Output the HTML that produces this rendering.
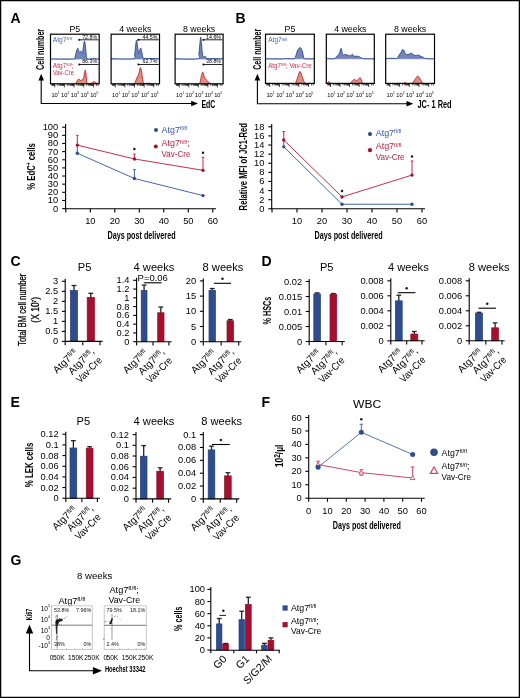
<!DOCTYPE html>
<html><head><meta charset="utf-8"><style>
html,body{margin:0;padding:0;background:#fff;}
svg{display:block;will-change:transform;}
text{font-family:"Liberation Sans", sans-serif;}
</style></head><body>
<svg width="520" height="698" viewBox="0 0 520 698" font-family='"Liberation Sans", sans-serif'>
<rect x="0.6" y="0.6" width="518.8" height="696.8" fill="#fff" stroke="#000" stroke-width="1.3"/>
<text transform="translate(10.40,23.20)" font-size="14.0" text-anchor="start" fill="#000" font-weight="bold">A</text>
<text transform="translate(235.40,23.20)" font-size="14.0" text-anchor="start" fill="#000" font-weight="bold">B</text>
<text transform="translate(10.40,265.60)" font-size="14.0" text-anchor="start" fill="#000" font-weight="bold">C</text>
<text transform="translate(261.60,265.60)" font-size="14.0" text-anchor="start" fill="#000" font-weight="bold">D</text>
<text transform="translate(10.60,407.30)" font-size="14.0" text-anchor="start" fill="#000" font-weight="bold">E</text>
<text transform="translate(261.60,407.00)" font-size="14.0" text-anchor="start" fill="#000" font-weight="bold">F</text>
<text transform="translate(10.40,565.30)" font-size="14.0" text-anchor="start" fill="#000" font-weight="bold">G</text>
<line x1="50.50" y1="59.00" x2="99.20" y2="59.00" stroke="#8fa3cf" stroke-width="0.9"/>
<path d="M50.50,59.00 C54.35,59.00 69.52,59.30 73.60,59.00 C77.68,58.70 74.55,58.37 75.00,57.20 C75.45,56.03 75.85,53.50 76.30,52.00 C76.75,50.50 77.32,48.45 77.70,48.20 C78.08,47.95 78.33,49.83 78.60,50.50 C78.87,51.17 78.97,52.10 79.30,52.20 C79.63,52.30 80.22,51.07 80.60,51.10 C80.98,51.13 81.28,52.10 81.60,52.40 C81.92,52.70 82.18,53.97 82.50,52.90 C82.82,51.83 83.17,47.97 83.50,46.00 C83.83,44.03 84.17,40.93 84.50,41.10 C84.83,41.27 85.20,44.60 85.50,47.00 C85.80,49.40 86.02,53.53 86.30,55.50 C86.58,57.47 86.58,58.22 87.20,58.80 C87.82,59.38 89.03,59.03 90.00,59.00 C90.97,58.97 92.17,58.70 93.00,58.60 C93.83,58.50 94.33,58.33 95.00,58.40 C95.67,58.47 96.30,58.90 97.00,59.00 C97.70,59.10 98.83,59.00 99.20,59.00 L99.20,59.00 L50.50,59.00 Z" fill="#7383bb" stroke="none"/>
<path d="M50.50,59.00 C54.35,59.00 69.52,59.30 73.60,59.00 C77.68,58.70 74.55,58.37 75.00,57.20 C75.45,56.03 75.85,53.50 76.30,52.00 C76.75,50.50 77.32,48.45 77.70,48.20 C78.08,47.95 78.33,49.83 78.60,50.50 C78.87,51.17 78.97,52.10 79.30,52.20 C79.63,52.30 80.22,51.07 80.60,51.10 C80.98,51.13 81.28,52.10 81.60,52.40 C81.92,52.70 82.18,53.97 82.50,52.90 C82.82,51.83 83.17,47.97 83.50,46.00 C83.83,44.03 84.17,40.93 84.50,41.10 C84.83,41.27 85.20,44.60 85.50,47.00 C85.80,49.40 86.02,53.53 86.30,55.50 C86.58,57.47 86.58,58.22 87.20,58.80 C87.82,59.38 89.03,59.03 90.00,59.00 C90.97,58.97 92.17,58.70 93.00,58.60 C93.83,58.50 94.33,58.33 95.00,58.40 C95.67,58.47 96.30,58.90 97.00,59.00 C97.70,59.10 98.83,59.00 99.20,59.00" fill="none" stroke="#2c4989" stroke-width="0.9" stroke-linejoin="round"/>
<path d="M75.60,83.80 C75.80,83.42 76.30,82.30 76.80,81.50 C77.30,80.70 77.95,79.17 78.60,79.00 C79.25,78.83 80.07,80.40 80.70,80.50 C81.33,80.60 81.92,80.02 82.40,79.60 C82.88,79.18 83.27,78.93 83.60,78.00 C83.93,77.07 84.13,75.32 84.40,74.00 C84.67,72.68 84.93,70.02 85.20,70.10 C85.47,70.18 85.73,72.60 86.00,74.50 C86.27,76.40 86.50,80.02 86.80,81.50 C87.10,82.98 87.10,83.10 87.80,83.40 C88.50,83.70 89.97,83.62 91.00,83.30 C92.03,82.98 93.17,81.58 94.00,81.50 C94.83,81.42 95.13,82.45 96.00,82.80 C96.87,83.15 98.67,83.47 99.20,83.60 L99.20,83.80 L75.60,83.80 Z" fill="#d9927c" stroke="none"/>
<path d="M75.60,83.80 C75.80,83.42 76.30,82.30 76.80,81.50 C77.30,80.70 77.95,79.17 78.60,79.00 C79.25,78.83 80.07,80.40 80.70,80.50 C81.33,80.60 81.92,80.02 82.40,79.60 C82.88,79.18 83.27,78.93 83.60,78.00 C83.93,77.07 84.13,75.32 84.40,74.00 C84.67,72.68 84.93,70.02 85.20,70.10 C85.47,70.18 85.73,72.60 86.00,74.50 C86.27,76.40 86.50,80.02 86.80,81.50 C87.10,82.98 87.10,83.10 87.80,83.40 C88.50,83.70 89.97,83.62 91.00,83.30 C92.03,82.98 93.17,81.58 94.00,81.50 C94.83,81.42 95.13,82.45 96.00,82.80 C96.87,83.15 98.67,83.47 99.20,83.60" fill="none" stroke="#bf1f3d" stroke-width="0.9" stroke-linejoin="round"/>
<rect x="50.50" y="34.20" width="48.70" height="49.60" fill="none" stroke="#000" stroke-width="1.2"/>
<line x1="51.78" y1="83.80" x2="51.78" y2="85.80" stroke="#111" stroke-width="0.75"/>
<line x1="52.55" y1="83.80" x2="52.55" y2="85.80" stroke="#111" stroke-width="0.75"/>
<line x1="53.20" y1="83.80" x2="53.20" y2="85.80" stroke="#111" stroke-width="0.75"/>
<line x1="53.76" y1="83.80" x2="53.76" y2="85.80" stroke="#111" stroke-width="0.75"/>
<line x1="54.26" y1="83.80" x2="54.26" y2="85.80" stroke="#111" stroke-width="0.75"/>
<line x1="54.70" y1="83.80" x2="54.70" y2="87.40" stroke="#111" stroke-width="0.75"/>
<line x1="57.62" y1="83.80" x2="57.62" y2="85.80" stroke="#111" stroke-width="0.75"/>
<line x1="59.32" y1="83.80" x2="59.32" y2="85.80" stroke="#111" stroke-width="0.75"/>
<line x1="60.54" y1="83.80" x2="60.54" y2="85.80" stroke="#111" stroke-width="0.75"/>
<line x1="61.47" y1="83.80" x2="61.47" y2="85.80" stroke="#111" stroke-width="0.75"/>
<line x1="62.24" y1="83.80" x2="62.24" y2="85.80" stroke="#111" stroke-width="0.75"/>
<line x1="62.89" y1="83.80" x2="62.89" y2="85.80" stroke="#111" stroke-width="0.75"/>
<line x1="63.45" y1="83.80" x2="63.45" y2="85.80" stroke="#111" stroke-width="0.75"/>
<line x1="63.95" y1="83.80" x2="63.95" y2="85.80" stroke="#111" stroke-width="0.75"/>
<line x1="64.39" y1="83.80" x2="64.39" y2="87.40" stroke="#111" stroke-width="0.75"/>
<line x1="67.31" y1="83.80" x2="67.31" y2="85.80" stroke="#111" stroke-width="0.75"/>
<line x1="69.02" y1="83.80" x2="69.02" y2="85.80" stroke="#111" stroke-width="0.75"/>
<line x1="70.23" y1="83.80" x2="70.23" y2="85.80" stroke="#111" stroke-width="0.75"/>
<line x1="71.17" y1="83.80" x2="71.17" y2="85.80" stroke="#111" stroke-width="0.75"/>
<line x1="71.93" y1="83.80" x2="71.93" y2="85.80" stroke="#111" stroke-width="0.75"/>
<line x1="72.58" y1="83.80" x2="72.58" y2="85.80" stroke="#111" stroke-width="0.75"/>
<line x1="73.15" y1="83.80" x2="73.15" y2="85.80" stroke="#111" stroke-width="0.75"/>
<line x1="73.64" y1="83.80" x2="73.64" y2="85.80" stroke="#111" stroke-width="0.75"/>
<line x1="74.08" y1="83.80" x2="74.08" y2="87.40" stroke="#111" stroke-width="0.75"/>
<line x1="77.00" y1="83.80" x2="77.00" y2="85.80" stroke="#111" stroke-width="0.75"/>
<line x1="78.71" y1="83.80" x2="78.71" y2="85.80" stroke="#111" stroke-width="0.75"/>
<line x1="79.92" y1="83.80" x2="79.92" y2="85.80" stroke="#111" stroke-width="0.75"/>
<line x1="80.86" y1="83.80" x2="80.86" y2="85.80" stroke="#111" stroke-width="0.75"/>
<line x1="81.63" y1="83.80" x2="81.63" y2="85.80" stroke="#111" stroke-width="0.75"/>
<line x1="82.28" y1="83.80" x2="82.28" y2="85.80" stroke="#111" stroke-width="0.75"/>
<line x1="82.84" y1="83.80" x2="82.84" y2="85.80" stroke="#111" stroke-width="0.75"/>
<line x1="83.33" y1="83.80" x2="83.33" y2="85.80" stroke="#111" stroke-width="0.75"/>
<line x1="83.78" y1="83.80" x2="83.78" y2="87.40" stroke="#111" stroke-width="0.75"/>
<line x1="86.69" y1="83.80" x2="86.69" y2="85.80" stroke="#111" stroke-width="0.75"/>
<line x1="88.40" y1="83.80" x2="88.40" y2="85.80" stroke="#111" stroke-width="0.75"/>
<line x1="89.61" y1="83.80" x2="89.61" y2="85.80" stroke="#111" stroke-width="0.75"/>
<line x1="90.55" y1="83.80" x2="90.55" y2="85.80" stroke="#111" stroke-width="0.75"/>
<line x1="91.32" y1="83.80" x2="91.32" y2="85.80" stroke="#111" stroke-width="0.75"/>
<line x1="91.97" y1="83.80" x2="91.97" y2="85.80" stroke="#111" stroke-width="0.75"/>
<line x1="92.53" y1="83.80" x2="92.53" y2="85.80" stroke="#111" stroke-width="0.75"/>
<line x1="93.03" y1="83.80" x2="93.03" y2="85.80" stroke="#111" stroke-width="0.75"/>
<line x1="93.47" y1="83.80" x2="93.47" y2="87.40" stroke="#111" stroke-width="0.75"/>
<line x1="96.39" y1="83.80" x2="96.39" y2="85.80" stroke="#111" stroke-width="0.75"/>
<line x1="98.09" y1="83.80" x2="98.09" y2="85.80" stroke="#111" stroke-width="0.75"/>
<text transform="translate(55.50,96.60) scale(0.92,1)" font-size="6.2" text-anchor="middle" fill="#000">10<tspan font-size="58%" dy="-0.62em">1</tspan></text>
<text transform="translate(65.19,96.60) scale(0.92,1)" font-size="6.2" text-anchor="middle" fill="#000">10<tspan font-size="58%" dy="-0.62em">2</tspan></text>
<text transform="translate(74.88,96.60) scale(0.92,1)" font-size="6.2" text-anchor="middle" fill="#000">10<tspan font-size="58%" dy="-0.62em">3</tspan></text>
<text transform="translate(84.58,96.60) scale(0.92,1)" font-size="6.2" text-anchor="middle" fill="#000">10<tspan font-size="58%" dy="-0.62em">4</tspan></text>
<text transform="translate(94.27,96.60) scale(0.92,1)" font-size="6.2" text-anchor="middle" fill="#000">10<tspan font-size="58%" dy="-0.62em">5</tspan></text>
<line x1="79.30" y1="39.80" x2="98.60" y2="39.80" stroke="#111" stroke-width="0.9"/>
<rect x="78.40" y="38.90" width="1.8" height="1.8" fill="#111"/>
<text transform="translate(97.20,38.50) scale(0.95,1)" font-size="5.6" text-anchor="end" fill="#000">72.8%</text>
<line x1="79.30" y1="64.50" x2="98.60" y2="64.50" stroke="#111" stroke-width="0.9"/>
<rect x="78.40" y="63.60" width="1.8" height="1.8" fill="#111"/>
<text transform="translate(97.20,63.20) scale(0.95,1)" font-size="5.6" text-anchor="end" fill="#000">86.3%</text>
<text transform="translate(74.85,32.30)" font-size="8.8" text-anchor="middle" fill="#000">P5</text>
<line x1="111.10" y1="59.00" x2="159.50" y2="59.00" stroke="#8fa3cf" stroke-width="0.9"/>
<path d="M111.10,58.80 C114.78,58.80 129.28,59.43 133.20,58.80 C137.12,58.17 134.20,57.13 134.60,55.00 C135.00,52.87 135.27,48.48 135.60,46.00 C135.93,43.52 136.27,39.93 136.60,40.10 C136.93,40.27 137.27,44.77 137.60,47.00 C137.93,49.23 138.27,52.92 138.60,53.50 C138.93,54.08 139.25,51.40 139.60,50.50 C139.95,49.60 140.35,47.93 140.70,48.10 C141.05,48.27 141.37,50.10 141.70,51.50 C142.03,52.90 142.32,55.35 142.70,56.50 C143.08,57.65 142.78,58.07 144.00,58.40 C145.22,58.73 147.42,58.43 150.00,58.50 C152.58,58.57 157.92,58.75 159.50,58.80 L159.50,59.00 L111.10,59.00 Z" fill="#7383bb" stroke="none"/>
<path d="M111.10,58.80 C114.78,58.80 129.28,59.43 133.20,58.80 C137.12,58.17 134.20,57.13 134.60,55.00 C135.00,52.87 135.27,48.48 135.60,46.00 C135.93,43.52 136.27,39.93 136.60,40.10 C136.93,40.27 137.27,44.77 137.60,47.00 C137.93,49.23 138.27,52.92 138.60,53.50 C138.93,54.08 139.25,51.40 139.60,50.50 C139.95,49.60 140.35,47.93 140.70,48.10 C141.05,48.27 141.37,50.10 141.70,51.50 C142.03,52.90 142.32,55.35 142.70,56.50 C143.08,57.65 142.78,58.07 144.00,58.40 C145.22,58.73 147.42,58.43 150.00,58.50 C152.58,58.57 157.92,58.75 159.50,58.80" fill="none" stroke="#2c4989" stroke-width="0.9" stroke-linejoin="round"/>
<path d="M134.40,83.80 C134.63,83.25 135.32,81.63 135.80,80.50 C136.28,79.37 136.80,78.08 137.30,77.00 C137.80,75.92 138.30,75.53 138.80,74.00 C139.30,72.47 139.85,68.30 140.30,67.80 C140.75,67.30 141.17,69.47 141.50,71.00 C141.83,72.53 142.02,75.20 142.30,77.00 C142.58,78.80 142.87,80.73 143.20,81.80 C143.53,82.87 143.50,83.17 144.30,83.40 C145.10,83.63 146.72,83.17 148.00,83.20 C149.28,83.23 151.33,83.53 152.00,83.60 L152.00,83.80 L134.40,83.80 Z" fill="#d9927c" stroke="none"/>
<path d="M134.40,83.80 C134.63,83.25 135.32,81.63 135.80,80.50 C136.28,79.37 136.80,78.08 137.30,77.00 C137.80,75.92 138.30,75.53 138.80,74.00 C139.30,72.47 139.85,68.30 140.30,67.80 C140.75,67.30 141.17,69.47 141.50,71.00 C141.83,72.53 142.02,75.20 142.30,77.00 C142.58,78.80 142.87,80.73 143.20,81.80 C143.53,82.87 143.50,83.17 144.30,83.40 C145.10,83.63 146.72,83.17 148.00,83.20 C149.28,83.23 151.33,83.53 152.00,83.60" fill="none" stroke="#bf1f3d" stroke-width="0.9" stroke-linejoin="round"/>
<rect x="111.10" y="34.20" width="48.40" height="49.60" fill="none" stroke="#000" stroke-width="1.2"/>
<line x1="112.40" y1="83.80" x2="112.40" y2="85.80" stroke="#111" stroke-width="0.75"/>
<line x1="113.16" y1="83.80" x2="113.16" y2="85.80" stroke="#111" stroke-width="0.75"/>
<line x1="113.81" y1="83.80" x2="113.81" y2="85.80" stroke="#111" stroke-width="0.75"/>
<line x1="114.37" y1="83.80" x2="114.37" y2="85.80" stroke="#111" stroke-width="0.75"/>
<line x1="114.86" y1="83.80" x2="114.86" y2="85.80" stroke="#111" stroke-width="0.75"/>
<line x1="115.30" y1="83.80" x2="115.30" y2="87.40" stroke="#111" stroke-width="0.75"/>
<line x1="118.20" y1="83.80" x2="118.20" y2="85.80" stroke="#111" stroke-width="0.75"/>
<line x1="119.89" y1="83.80" x2="119.89" y2="85.80" stroke="#111" stroke-width="0.75"/>
<line x1="121.10" y1="83.80" x2="121.10" y2="85.80" stroke="#111" stroke-width="0.75"/>
<line x1="122.03" y1="83.80" x2="122.03" y2="85.80" stroke="#111" stroke-width="0.75"/>
<line x1="122.79" y1="83.80" x2="122.79" y2="85.80" stroke="#111" stroke-width="0.75"/>
<line x1="123.44" y1="83.80" x2="123.44" y2="85.80" stroke="#111" stroke-width="0.75"/>
<line x1="123.99" y1="83.80" x2="123.99" y2="85.80" stroke="#111" stroke-width="0.75"/>
<line x1="124.49" y1="83.80" x2="124.49" y2="85.80" stroke="#111" stroke-width="0.75"/>
<line x1="124.93" y1="83.80" x2="124.93" y2="87.40" stroke="#111" stroke-width="0.75"/>
<line x1="127.82" y1="83.80" x2="127.82" y2="85.80" stroke="#111" stroke-width="0.75"/>
<line x1="129.52" y1="83.80" x2="129.52" y2="85.80" stroke="#111" stroke-width="0.75"/>
<line x1="130.72" y1="83.80" x2="130.72" y2="85.80" stroke="#111" stroke-width="0.75"/>
<line x1="131.65" y1="83.80" x2="131.65" y2="85.80" stroke="#111" stroke-width="0.75"/>
<line x1="132.42" y1="83.80" x2="132.42" y2="85.80" stroke="#111" stroke-width="0.75"/>
<line x1="133.06" y1="83.80" x2="133.06" y2="85.80" stroke="#111" stroke-width="0.75"/>
<line x1="133.62" y1="83.80" x2="133.62" y2="85.80" stroke="#111" stroke-width="0.75"/>
<line x1="134.11" y1="83.80" x2="134.11" y2="85.80" stroke="#111" stroke-width="0.75"/>
<line x1="134.55" y1="83.80" x2="134.55" y2="87.40" stroke="#111" stroke-width="0.75"/>
<line x1="137.45" y1="83.80" x2="137.45" y2="85.80" stroke="#111" stroke-width="0.75"/>
<line x1="139.15" y1="83.80" x2="139.15" y2="85.80" stroke="#111" stroke-width="0.75"/>
<line x1="140.35" y1="83.80" x2="140.35" y2="85.80" stroke="#111" stroke-width="0.75"/>
<line x1="141.28" y1="83.80" x2="141.28" y2="85.80" stroke="#111" stroke-width="0.75"/>
<line x1="142.04" y1="83.80" x2="142.04" y2="85.80" stroke="#111" stroke-width="0.75"/>
<line x1="142.69" y1="83.80" x2="142.69" y2="85.80" stroke="#111" stroke-width="0.75"/>
<line x1="143.25" y1="83.80" x2="143.25" y2="85.80" stroke="#111" stroke-width="0.75"/>
<line x1="143.74" y1="83.80" x2="143.74" y2="85.80" stroke="#111" stroke-width="0.75"/>
<line x1="144.18" y1="83.80" x2="144.18" y2="87.40" stroke="#111" stroke-width="0.75"/>
<line x1="147.08" y1="83.80" x2="147.08" y2="85.80" stroke="#111" stroke-width="0.75"/>
<line x1="148.77" y1="83.80" x2="148.77" y2="85.80" stroke="#111" stroke-width="0.75"/>
<line x1="149.97" y1="83.80" x2="149.97" y2="85.80" stroke="#111" stroke-width="0.75"/>
<line x1="150.91" y1="83.80" x2="150.91" y2="85.80" stroke="#111" stroke-width="0.75"/>
<line x1="151.67" y1="83.80" x2="151.67" y2="85.80" stroke="#111" stroke-width="0.75"/>
<line x1="152.31" y1="83.80" x2="152.31" y2="85.80" stroke="#111" stroke-width="0.75"/>
<line x1="152.87" y1="83.80" x2="152.87" y2="85.80" stroke="#111" stroke-width="0.75"/>
<line x1="153.37" y1="83.80" x2="153.37" y2="85.80" stroke="#111" stroke-width="0.75"/>
<line x1="153.81" y1="83.80" x2="153.81" y2="87.40" stroke="#111" stroke-width="0.75"/>
<line x1="156.70" y1="83.80" x2="156.70" y2="85.80" stroke="#111" stroke-width="0.75"/>
<line x1="158.40" y1="83.80" x2="158.40" y2="85.80" stroke="#111" stroke-width="0.75"/>
<text transform="translate(116.10,96.60) scale(0.92,1)" font-size="6.2" text-anchor="middle" fill="#000">10<tspan font-size="58%" dy="-0.62em">1</tspan></text>
<text transform="translate(125.73,96.60) scale(0.92,1)" font-size="6.2" text-anchor="middle" fill="#000">10<tspan font-size="58%" dy="-0.62em">2</tspan></text>
<text transform="translate(135.35,96.60) scale(0.92,1)" font-size="6.2" text-anchor="middle" fill="#000">10<tspan font-size="58%" dy="-0.62em">3</tspan></text>
<text transform="translate(144.98,96.60) scale(0.92,1)" font-size="6.2" text-anchor="middle" fill="#000">10<tspan font-size="58%" dy="-0.62em">4</tspan></text>
<text transform="translate(154.61,96.60) scale(0.92,1)" font-size="6.2" text-anchor="middle" fill="#000">10<tspan font-size="58%" dy="-0.62em">5</tspan></text>
<line x1="138.40" y1="39.80" x2="158.90" y2="39.80" stroke="#111" stroke-width="0.9"/>
<rect x="137.50" y="38.90" width="1.8" height="1.8" fill="#111"/>
<text transform="translate(157.50,38.50) scale(0.95,1)" font-size="5.6" text-anchor="end" fill="#000">44.5%</text>
<line x1="138.40" y1="64.50" x2="158.90" y2="64.50" stroke="#111" stroke-width="0.9"/>
<rect x="137.50" y="63.60" width="1.8" height="1.8" fill="#111"/>
<text transform="translate(157.50,63.20) scale(0.95,1)" font-size="5.6" text-anchor="end" fill="#000">62.7%</text>
<text transform="translate(135.30,32.30)" font-size="8.8" text-anchor="middle" fill="#000">4 weeks</text>
<line x1="175.10" y1="59.00" x2="223.10" y2="59.00" stroke="#8fa3cf" stroke-width="0.9"/>
<path d="M175.10,58.80 C178.85,58.80 193.63,59.60 197.60,58.80 C201.57,58.00 198.53,56.30 198.90,54.00 C199.27,51.70 199.50,47.82 199.80,45.00 C200.10,42.18 200.40,37.10 200.70,37.10 C201.00,37.10 201.32,42.18 201.60,45.00 C201.88,47.82 202.10,52.03 202.40,54.00 C202.70,55.97 202.93,56.40 203.40,56.80 C203.87,57.20 204.68,56.15 205.20,56.40 C205.72,56.65 205.70,57.93 206.50,58.30 C207.30,58.67 207.23,58.52 210.00,58.60 C212.77,58.68 220.92,58.77 223.10,58.80 L223.10,59.00 L175.10,59.00 Z" fill="#7383bb" stroke="none"/>
<path d="M175.10,58.80 C178.85,58.80 193.63,59.60 197.60,58.80 C201.57,58.00 198.53,56.30 198.90,54.00 C199.27,51.70 199.50,47.82 199.80,45.00 C200.10,42.18 200.40,37.10 200.70,37.10 C201.00,37.10 201.32,42.18 201.60,45.00 C201.88,47.82 202.10,52.03 202.40,54.00 C202.70,55.97 202.93,56.40 203.40,56.80 C203.87,57.20 204.68,56.15 205.20,56.40 C205.72,56.65 205.70,57.93 206.50,58.30 C207.30,58.67 207.23,58.52 210.00,58.60 C212.77,58.68 220.92,58.77 223.10,58.80" fill="none" stroke="#2c4989" stroke-width="0.9" stroke-linejoin="round"/>
<path d="M199.80,83.80 C200.03,82.67 200.72,78.95 201.20,77.00 C201.68,75.05 202.27,72.35 202.70,72.10 C203.13,71.85 203.38,74.42 203.80,75.50 C204.22,76.58 204.67,77.77 205.20,78.60 C205.73,79.43 206.45,79.88 207.00,80.50 C207.55,81.12 207.87,81.80 208.50,82.30 C209.13,82.80 210.42,83.30 210.80,83.50 L210.80,83.80 L199.80,83.80 Z" fill="#d9927c" stroke="none"/>
<path d="M199.80,83.80 C200.03,82.67 200.72,78.95 201.20,77.00 C201.68,75.05 202.27,72.35 202.70,72.10 C203.13,71.85 203.38,74.42 203.80,75.50 C204.22,76.58 204.67,77.77 205.20,78.60 C205.73,79.43 206.45,79.88 207.00,80.50 C207.55,81.12 207.87,81.80 208.50,82.30 C209.13,82.80 210.42,83.30 210.80,83.50" fill="none" stroke="#bf1f3d" stroke-width="0.9" stroke-linejoin="round"/>
<rect x="175.10" y="34.20" width="48.00" height="49.60" fill="none" stroke="#000" stroke-width="1.2"/>
<line x1="176.43" y1="83.80" x2="176.43" y2="85.80" stroke="#111" stroke-width="0.75"/>
<line x1="177.18" y1="83.80" x2="177.18" y2="85.80" stroke="#111" stroke-width="0.75"/>
<line x1="177.82" y1="83.80" x2="177.82" y2="85.80" stroke="#111" stroke-width="0.75"/>
<line x1="178.38" y1="83.80" x2="178.38" y2="85.80" stroke="#111" stroke-width="0.75"/>
<line x1="178.86" y1="83.80" x2="178.86" y2="85.80" stroke="#111" stroke-width="0.75"/>
<line x1="179.30" y1="83.80" x2="179.30" y2="87.40" stroke="#111" stroke-width="0.75"/>
<line x1="182.17" y1="83.80" x2="182.17" y2="85.80" stroke="#111" stroke-width="0.75"/>
<line x1="183.85" y1="83.80" x2="183.85" y2="85.80" stroke="#111" stroke-width="0.75"/>
<line x1="185.04" y1="83.80" x2="185.04" y2="85.80" stroke="#111" stroke-width="0.75"/>
<line x1="185.97" y1="83.80" x2="185.97" y2="85.80" stroke="#111" stroke-width="0.75"/>
<line x1="186.72" y1="83.80" x2="186.72" y2="85.80" stroke="#111" stroke-width="0.75"/>
<line x1="187.36" y1="83.80" x2="187.36" y2="85.80" stroke="#111" stroke-width="0.75"/>
<line x1="187.91" y1="83.80" x2="187.91" y2="85.80" stroke="#111" stroke-width="0.75"/>
<line x1="188.40" y1="83.80" x2="188.40" y2="85.80" stroke="#111" stroke-width="0.75"/>
<line x1="188.84" y1="83.80" x2="188.84" y2="87.40" stroke="#111" stroke-width="0.75"/>
<line x1="191.71" y1="83.80" x2="191.71" y2="85.80" stroke="#111" stroke-width="0.75"/>
<line x1="193.39" y1="83.80" x2="193.39" y2="85.80" stroke="#111" stroke-width="0.75"/>
<line x1="194.58" y1="83.80" x2="194.58" y2="85.80" stroke="#111" stroke-width="0.75"/>
<line x1="195.51" y1="83.80" x2="195.51" y2="85.80" stroke="#111" stroke-width="0.75"/>
<line x1="196.26" y1="83.80" x2="196.26" y2="85.80" stroke="#111" stroke-width="0.75"/>
<line x1="196.90" y1="83.80" x2="196.90" y2="85.80" stroke="#111" stroke-width="0.75"/>
<line x1="197.45" y1="83.80" x2="197.45" y2="85.80" stroke="#111" stroke-width="0.75"/>
<line x1="197.94" y1="83.80" x2="197.94" y2="85.80" stroke="#111" stroke-width="0.75"/>
<line x1="198.38" y1="83.80" x2="198.38" y2="87.40" stroke="#111" stroke-width="0.75"/>
<line x1="201.25" y1="83.80" x2="201.25" y2="85.80" stroke="#111" stroke-width="0.75"/>
<line x1="202.93" y1="83.80" x2="202.93" y2="85.80" stroke="#111" stroke-width="0.75"/>
<line x1="204.12" y1="83.80" x2="204.12" y2="85.80" stroke="#111" stroke-width="0.75"/>
<line x1="205.04" y1="83.80" x2="205.04" y2="85.80" stroke="#111" stroke-width="0.75"/>
<line x1="205.80" y1="83.80" x2="205.80" y2="85.80" stroke="#111" stroke-width="0.75"/>
<line x1="206.44" y1="83.80" x2="206.44" y2="85.80" stroke="#111" stroke-width="0.75"/>
<line x1="206.99" y1="83.80" x2="206.99" y2="85.80" stroke="#111" stroke-width="0.75"/>
<line x1="207.48" y1="83.80" x2="207.48" y2="85.80" stroke="#111" stroke-width="0.75"/>
<line x1="207.92" y1="83.80" x2="207.92" y2="87.40" stroke="#111" stroke-width="0.75"/>
<line x1="210.79" y1="83.80" x2="210.79" y2="85.80" stroke="#111" stroke-width="0.75"/>
<line x1="212.47" y1="83.80" x2="212.47" y2="85.80" stroke="#111" stroke-width="0.75"/>
<line x1="213.66" y1="83.80" x2="213.66" y2="85.80" stroke="#111" stroke-width="0.75"/>
<line x1="214.58" y1="83.80" x2="214.58" y2="85.80" stroke="#111" stroke-width="0.75"/>
<line x1="215.34" y1="83.80" x2="215.34" y2="85.80" stroke="#111" stroke-width="0.75"/>
<line x1="215.98" y1="83.80" x2="215.98" y2="85.80" stroke="#111" stroke-width="0.75"/>
<line x1="216.53" y1="83.80" x2="216.53" y2="85.80" stroke="#111" stroke-width="0.75"/>
<line x1="217.02" y1="83.80" x2="217.02" y2="85.80" stroke="#111" stroke-width="0.75"/>
<line x1="217.45" y1="83.80" x2="217.45" y2="87.40" stroke="#111" stroke-width="0.75"/>
<line x1="220.33" y1="83.80" x2="220.33" y2="85.80" stroke="#111" stroke-width="0.75"/>
<line x1="222.00" y1="83.80" x2="222.00" y2="85.80" stroke="#111" stroke-width="0.75"/>
<text transform="translate(180.10,96.60) scale(0.92,1)" font-size="6.2" text-anchor="middle" fill="#000">10<tspan font-size="58%" dy="-0.62em">1</tspan></text>
<text transform="translate(189.64,96.60) scale(0.92,1)" font-size="6.2" text-anchor="middle" fill="#000">10<tspan font-size="58%" dy="-0.62em">2</tspan></text>
<text transform="translate(199.18,96.60) scale(0.92,1)" font-size="6.2" text-anchor="middle" fill="#000">10<tspan font-size="58%" dy="-0.62em">3</tspan></text>
<text transform="translate(208.72,96.60) scale(0.92,1)" font-size="6.2" text-anchor="middle" fill="#000">10<tspan font-size="58%" dy="-0.62em">4</tspan></text>
<text transform="translate(218.25,96.60) scale(0.92,1)" font-size="6.2" text-anchor="middle" fill="#000">10<tspan font-size="58%" dy="-0.62em">5</tspan></text>
<line x1="203.40" y1="39.80" x2="222.50" y2="39.80" stroke="#111" stroke-width="0.9"/>
<rect x="202.50" y="38.90" width="1.8" height="1.8" fill="#111"/>
<text transform="translate(221.10,38.50) scale(0.95,1)" font-size="5.6" text-anchor="end" fill="#000">14.6%</text>
<line x1="203.40" y1="64.50" x2="222.50" y2="64.50" stroke="#111" stroke-width="0.9"/>
<rect x="202.50" y="63.60" width="1.8" height="1.8" fill="#111"/>
<text transform="translate(221.10,63.20) scale(0.95,1)" font-size="5.6" text-anchor="end" fill="#000">38.8%</text>
<text transform="translate(199.10,32.30)" font-size="8.8" text-anchor="middle" fill="#000">8 weeks</text>
<text transform="translate(52.80,41.60)" font-size="6.6" text-anchor="start" fill="#4566a8">Atg7<tspan font-size="64%" dy="-0.42em">fl/fl</tspan></text>
<text transform="translate(52.80,67.60)" font-size="6.6" text-anchor="start" fill="#c5304d">Atg7<tspan font-size="64%" dy="-0.42em">fl/fl</tspan><tspan dy="0.269em">;</tspan></text>
<text transform="translate(52.80,74.70) scale(0.9,1)" font-size="6.6" text-anchor="start" fill="#c5304d">Vav-Cre</text>
<path d="M41.2,78 L41.2,103.5 L193,103.5" fill="none" stroke="#000" stroke-width="1.1"/>
<path d="M41.20,73.80 L38.40,80.60 L44.00,80.60 Z" fill="#000"/>
<path d="M198.00,103.50 L191.20,100.70 L191.20,106.30 Z" fill="#000"/>
<text transform="translate(43.70,49.40) rotate(-90) scale(0.6975,1)" font-size="10.2" text-anchor="middle" fill="#000" font-weight="bold">Cell number</text>
<text transform="translate(201.40,107.90) scale(0.6696,1)" font-size="10.4" text-anchor="start" fill="#000" font-weight="bold">EdC</text>
<line x1="265.50" y1="58.80" x2="314.30" y2="58.80" stroke="#8fa3cf" stroke-width="0.9"/>
<path d="M265.50,58.80 C267.92,58.83 276.25,59.03 280.00,59.00 C283.75,58.97 285.63,58.65 288.00,58.60 C290.37,58.55 292.90,59.13 294.20,58.70 C295.50,58.27 295.28,57.28 295.80,56.00 C296.32,54.72 296.77,52.28 297.30,51.00 C297.83,49.72 298.57,48.87 299.00,48.30 C299.43,47.73 299.53,47.57 299.90,47.60 C300.27,47.63 300.77,47.77 301.20,48.50 C301.63,49.23 302.10,50.58 302.50,52.00 C302.90,53.42 303.22,55.87 303.60,57.00 C303.98,58.13 303.02,58.48 304.80,58.80 C306.58,59.12 312.72,58.88 314.30,58.90 L314.30,58.80 L265.50,58.80 Z" fill="#7383bb" stroke="none"/>
<path d="M265.50,58.80 C267.92,58.83 276.25,59.03 280.00,59.00 C283.75,58.97 285.63,58.65 288.00,58.60 C290.37,58.55 292.90,59.13 294.20,58.70 C295.50,58.27 295.28,57.28 295.80,56.00 C296.32,54.72 296.77,52.28 297.30,51.00 C297.83,49.72 298.57,48.87 299.00,48.30 C299.43,47.73 299.53,47.57 299.90,47.60 C300.27,47.63 300.77,47.77 301.20,48.50 C301.63,49.23 302.10,50.58 302.50,52.00 C302.90,53.42 303.22,55.87 303.60,57.00 C303.98,58.13 303.02,58.48 304.80,58.80 C306.58,59.12 312.72,58.88 314.30,58.90" fill="none" stroke="#2c4989" stroke-width="0.9" stroke-linejoin="round"/>
<path d="M295.60,83.40 C295.93,82.42 296.88,79.50 297.60,77.50 C298.32,75.50 299.15,71.57 299.90,71.40 C300.65,71.23 301.42,74.82 302.10,76.50 C302.78,78.18 303.45,80.35 304.00,81.50 C304.55,82.65 305.17,83.08 305.40,83.40 L305.40,83.40 L295.60,83.40 Z" fill="#d9927c" stroke="none"/>
<path d="M295.60,83.40 C295.93,82.42 296.88,79.50 297.60,77.50 C298.32,75.50 299.15,71.57 299.90,71.40 C300.65,71.23 301.42,74.82 302.10,76.50 C302.78,78.18 303.45,80.35 304.00,81.50 C304.55,82.65 305.17,83.08 305.40,83.40" fill="none" stroke="#bf1f3d" stroke-width="0.9" stroke-linejoin="round"/>
<rect x="265.50" y="34.20" width="48.80" height="49.20" fill="none" stroke="#000" stroke-width="1.2"/>
<line x1="266.78" y1="83.40" x2="266.78" y2="85.40" stroke="#111" stroke-width="0.75"/>
<line x1="267.54" y1="83.40" x2="267.54" y2="85.40" stroke="#111" stroke-width="0.75"/>
<line x1="268.20" y1="83.40" x2="268.20" y2="85.40" stroke="#111" stroke-width="0.75"/>
<line x1="268.76" y1="83.40" x2="268.76" y2="85.40" stroke="#111" stroke-width="0.75"/>
<line x1="269.26" y1="83.40" x2="269.26" y2="85.40" stroke="#111" stroke-width="0.75"/>
<line x1="269.70" y1="83.40" x2="269.70" y2="87.00" stroke="#111" stroke-width="0.75"/>
<line x1="272.62" y1="83.40" x2="272.62" y2="85.40" stroke="#111" stroke-width="0.75"/>
<line x1="274.33" y1="83.40" x2="274.33" y2="85.40" stroke="#111" stroke-width="0.75"/>
<line x1="275.55" y1="83.40" x2="275.55" y2="85.40" stroke="#111" stroke-width="0.75"/>
<line x1="276.49" y1="83.40" x2="276.49" y2="85.40" stroke="#111" stroke-width="0.75"/>
<line x1="277.26" y1="83.40" x2="277.26" y2="85.40" stroke="#111" stroke-width="0.75"/>
<line x1="277.91" y1="83.40" x2="277.91" y2="85.40" stroke="#111" stroke-width="0.75"/>
<line x1="278.47" y1="83.40" x2="278.47" y2="85.40" stroke="#111" stroke-width="0.75"/>
<line x1="278.97" y1="83.40" x2="278.97" y2="85.40" stroke="#111" stroke-width="0.75"/>
<line x1="279.41" y1="83.40" x2="279.41" y2="87.00" stroke="#111" stroke-width="0.75"/>
<line x1="282.34" y1="83.40" x2="282.34" y2="85.40" stroke="#111" stroke-width="0.75"/>
<line x1="284.05" y1="83.40" x2="284.05" y2="85.40" stroke="#111" stroke-width="0.75"/>
<line x1="285.26" y1="83.40" x2="285.26" y2="85.40" stroke="#111" stroke-width="0.75"/>
<line x1="286.20" y1="83.40" x2="286.20" y2="85.40" stroke="#111" stroke-width="0.75"/>
<line x1="286.97" y1="83.40" x2="286.97" y2="85.40" stroke="#111" stroke-width="0.75"/>
<line x1="287.62" y1="83.40" x2="287.62" y2="85.40" stroke="#111" stroke-width="0.75"/>
<line x1="288.19" y1="83.40" x2="288.19" y2="85.40" stroke="#111" stroke-width="0.75"/>
<line x1="288.68" y1="83.40" x2="288.68" y2="85.40" stroke="#111" stroke-width="0.75"/>
<line x1="289.13" y1="83.40" x2="289.13" y2="87.00" stroke="#111" stroke-width="0.75"/>
<line x1="292.05" y1="83.40" x2="292.05" y2="85.40" stroke="#111" stroke-width="0.75"/>
<line x1="293.76" y1="83.40" x2="293.76" y2="85.40" stroke="#111" stroke-width="0.75"/>
<line x1="294.98" y1="83.40" x2="294.98" y2="85.40" stroke="#111" stroke-width="0.75"/>
<line x1="295.92" y1="83.40" x2="295.92" y2="85.40" stroke="#111" stroke-width="0.75"/>
<line x1="296.69" y1="83.40" x2="296.69" y2="85.40" stroke="#111" stroke-width="0.75"/>
<line x1="297.34" y1="83.40" x2="297.34" y2="85.40" stroke="#111" stroke-width="0.75"/>
<line x1="297.90" y1="83.40" x2="297.90" y2="85.40" stroke="#111" stroke-width="0.75"/>
<line x1="298.40" y1="83.40" x2="298.40" y2="85.40" stroke="#111" stroke-width="0.75"/>
<line x1="298.84" y1="83.40" x2="298.84" y2="87.00" stroke="#111" stroke-width="0.75"/>
<line x1="301.77" y1="83.40" x2="301.77" y2="85.40" stroke="#111" stroke-width="0.75"/>
<line x1="303.48" y1="83.40" x2="303.48" y2="85.40" stroke="#111" stroke-width="0.75"/>
<line x1="304.69" y1="83.40" x2="304.69" y2="85.40" stroke="#111" stroke-width="0.75"/>
<line x1="305.63" y1="83.40" x2="305.63" y2="85.40" stroke="#111" stroke-width="0.75"/>
<line x1="306.40" y1="83.40" x2="306.40" y2="85.40" stroke="#111" stroke-width="0.75"/>
<line x1="307.05" y1="83.40" x2="307.05" y2="85.40" stroke="#111" stroke-width="0.75"/>
<line x1="307.62" y1="83.40" x2="307.62" y2="85.40" stroke="#111" stroke-width="0.75"/>
<line x1="308.11" y1="83.40" x2="308.11" y2="85.40" stroke="#111" stroke-width="0.75"/>
<line x1="308.56" y1="83.40" x2="308.56" y2="87.00" stroke="#111" stroke-width="0.75"/>
<line x1="311.48" y1="83.40" x2="311.48" y2="85.40" stroke="#111" stroke-width="0.75"/>
<line x1="313.19" y1="83.40" x2="313.19" y2="85.40" stroke="#111" stroke-width="0.75"/>
<text transform="translate(270.50,96.60) scale(0.92,1)" font-size="6.2" text-anchor="middle" fill="#000">10<tspan font-size="58%" dy="-0.62em">1</tspan></text>
<text transform="translate(280.21,96.60) scale(0.92,1)" font-size="6.2" text-anchor="middle" fill="#000">10<tspan font-size="58%" dy="-0.62em">2</tspan></text>
<text transform="translate(289.93,96.60) scale(0.92,1)" font-size="6.2" text-anchor="middle" fill="#000">10<tspan font-size="58%" dy="-0.62em">3</tspan></text>
<text transform="translate(299.64,96.60) scale(0.92,1)" font-size="6.2" text-anchor="middle" fill="#000">10<tspan font-size="58%" dy="-0.62em">4</tspan></text>
<text transform="translate(309.36,96.60) scale(0.92,1)" font-size="6.2" text-anchor="middle" fill="#000">10<tspan font-size="58%" dy="-0.62em">5</tspan></text>
<text transform="translate(289.90,32.30)" font-size="8.8" text-anchor="middle" fill="#000">P5</text>
<line x1="326.30" y1="58.80" x2="374.30" y2="58.80" stroke="#8fa3cf" stroke-width="0.9"/>
<path d="M326.30,58.60 C327.58,58.63 332.42,58.97 334.00,58.80 C335.58,58.63 335.22,58.15 335.80,57.60 C336.38,57.05 336.97,56.07 337.50,55.50 C338.03,54.93 338.55,54.95 339.00,54.20 C339.45,53.45 339.85,51.97 340.20,51.00 C340.55,50.03 340.77,48.15 341.10,48.40 C341.43,48.65 341.85,51.40 342.20,52.50 C342.55,53.60 342.73,54.68 343.20,55.00 C343.67,55.32 344.20,54.37 345.00,54.40 C345.80,54.43 347.08,54.97 348.00,55.20 C348.92,55.43 349.78,55.97 350.50,55.80 C351.22,55.63 351.75,54.17 352.30,54.20 C352.85,54.23 353.18,55.65 353.80,56.00 C354.42,56.35 355.30,56.27 356.00,56.30 C356.70,56.33 357.33,56.05 358.00,56.20 C358.67,56.35 359.27,56.83 360.00,57.20 C360.73,57.57 361.40,58.13 362.40,58.40 C363.40,58.67 364.02,58.73 366.00,58.80 C367.98,58.87 372.92,58.80 374.30,58.80 L374.30,58.80 L326.30,58.80 Z" fill="#7383bb" stroke="none"/>
<path d="M326.30,58.60 C327.58,58.63 332.42,58.97 334.00,58.80 C335.58,58.63 335.22,58.15 335.80,57.60 C336.38,57.05 336.97,56.07 337.50,55.50 C338.03,54.93 338.55,54.95 339.00,54.20 C339.45,53.45 339.85,51.97 340.20,51.00 C340.55,50.03 340.77,48.15 341.10,48.40 C341.43,48.65 341.85,51.40 342.20,52.50 C342.55,53.60 342.73,54.68 343.20,55.00 C343.67,55.32 344.20,54.37 345.00,54.40 C345.80,54.43 347.08,54.97 348.00,55.20 C348.92,55.43 349.78,55.97 350.50,55.80 C351.22,55.63 351.75,54.17 352.30,54.20 C352.85,54.23 353.18,55.65 353.80,56.00 C354.42,56.35 355.30,56.27 356.00,56.30 C356.70,56.33 357.33,56.05 358.00,56.20 C358.67,56.35 359.27,56.83 360.00,57.20 C360.73,57.57 361.40,58.13 362.40,58.40 C363.40,58.67 364.02,58.73 366.00,58.80 C367.98,58.87 372.92,58.80 374.30,58.80" fill="none" stroke="#2c4989" stroke-width="0.9" stroke-linejoin="round"/>
<path d="M350.20,83.40 C350.53,83.03 351.52,81.90 352.20,81.20 C352.88,80.50 353.67,79.30 354.30,79.20 C354.93,79.10 355.45,80.43 356.00,80.60 C356.55,80.77 357.10,80.55 357.60,80.20 C358.10,79.85 358.53,78.90 359.00,78.50 C359.47,78.10 359.98,77.52 360.40,77.80 C360.82,78.08 361.15,79.27 361.50,80.20 C361.85,81.13 362.33,82.87 362.50,83.40 L362.50,83.40 L350.20,83.40 Z" fill="#d9927c" stroke="none"/>
<path d="M350.20,83.40 C350.53,83.03 351.52,81.90 352.20,81.20 C352.88,80.50 353.67,79.30 354.30,79.20 C354.93,79.10 355.45,80.43 356.00,80.60 C356.55,80.77 357.10,80.55 357.60,80.20 C358.10,79.85 358.53,78.90 359.00,78.50 C359.47,78.10 359.98,77.52 360.40,77.80 C360.82,78.08 361.15,79.27 361.50,80.20 C361.85,81.13 362.33,82.87 362.50,83.40" fill="none" stroke="#bf1f3d" stroke-width="0.9" stroke-linejoin="round"/>
<path d="M327.20,83.40 C327.38,83.13 327.90,81.98 328.30,81.80 C328.70,81.62 329.18,82.03 329.60,82.30 C330.02,82.57 330.60,83.22 330.80,83.40 L330.80,83.40 L327.20,83.40 Z" fill="#d9927c" stroke="none"/>
<path d="M327.20,83.40 C327.38,83.13 327.90,81.98 328.30,81.80 C328.70,81.62 329.18,82.03 329.60,82.30 C330.02,82.57 330.60,83.22 330.80,83.40" fill="none" stroke="#bf1f3d" stroke-width="0.9" stroke-linejoin="round"/>
<rect x="326.30" y="34.20" width="48.00" height="49.20" fill="none" stroke="#000" stroke-width="1.2"/>
<line x1="327.63" y1="83.40" x2="327.63" y2="85.40" stroke="#111" stroke-width="0.75"/>
<line x1="328.38" y1="83.40" x2="328.38" y2="85.40" stroke="#111" stroke-width="0.75"/>
<line x1="329.02" y1="83.40" x2="329.02" y2="85.40" stroke="#111" stroke-width="0.75"/>
<line x1="329.58" y1="83.40" x2="329.58" y2="85.40" stroke="#111" stroke-width="0.75"/>
<line x1="330.06" y1="83.40" x2="330.06" y2="85.40" stroke="#111" stroke-width="0.75"/>
<line x1="330.50" y1="83.40" x2="330.50" y2="87.00" stroke="#111" stroke-width="0.75"/>
<line x1="333.37" y1="83.40" x2="333.37" y2="85.40" stroke="#111" stroke-width="0.75"/>
<line x1="335.05" y1="83.40" x2="335.05" y2="85.40" stroke="#111" stroke-width="0.75"/>
<line x1="336.24" y1="83.40" x2="336.24" y2="85.40" stroke="#111" stroke-width="0.75"/>
<line x1="337.17" y1="83.40" x2="337.17" y2="85.40" stroke="#111" stroke-width="0.75"/>
<line x1="337.92" y1="83.40" x2="337.92" y2="85.40" stroke="#111" stroke-width="0.75"/>
<line x1="338.56" y1="83.40" x2="338.56" y2="85.40" stroke="#111" stroke-width="0.75"/>
<line x1="339.11" y1="83.40" x2="339.11" y2="85.40" stroke="#111" stroke-width="0.75"/>
<line x1="339.60" y1="83.40" x2="339.60" y2="85.40" stroke="#111" stroke-width="0.75"/>
<line x1="340.04" y1="83.40" x2="340.04" y2="87.00" stroke="#111" stroke-width="0.75"/>
<line x1="342.91" y1="83.40" x2="342.91" y2="85.40" stroke="#111" stroke-width="0.75"/>
<line x1="344.59" y1="83.40" x2="344.59" y2="85.40" stroke="#111" stroke-width="0.75"/>
<line x1="345.78" y1="83.40" x2="345.78" y2="85.40" stroke="#111" stroke-width="0.75"/>
<line x1="346.71" y1="83.40" x2="346.71" y2="85.40" stroke="#111" stroke-width="0.75"/>
<line x1="347.46" y1="83.40" x2="347.46" y2="85.40" stroke="#111" stroke-width="0.75"/>
<line x1="348.10" y1="83.40" x2="348.10" y2="85.40" stroke="#111" stroke-width="0.75"/>
<line x1="348.65" y1="83.40" x2="348.65" y2="85.40" stroke="#111" stroke-width="0.75"/>
<line x1="349.14" y1="83.40" x2="349.14" y2="85.40" stroke="#111" stroke-width="0.75"/>
<line x1="349.58" y1="83.40" x2="349.58" y2="87.00" stroke="#111" stroke-width="0.75"/>
<line x1="352.45" y1="83.40" x2="352.45" y2="85.40" stroke="#111" stroke-width="0.75"/>
<line x1="354.13" y1="83.40" x2="354.13" y2="85.40" stroke="#111" stroke-width="0.75"/>
<line x1="355.32" y1="83.40" x2="355.32" y2="85.40" stroke="#111" stroke-width="0.75"/>
<line x1="356.24" y1="83.40" x2="356.24" y2="85.40" stroke="#111" stroke-width="0.75"/>
<line x1="357.00" y1="83.40" x2="357.00" y2="85.40" stroke="#111" stroke-width="0.75"/>
<line x1="357.64" y1="83.40" x2="357.64" y2="85.40" stroke="#111" stroke-width="0.75"/>
<line x1="358.19" y1="83.40" x2="358.19" y2="85.40" stroke="#111" stroke-width="0.75"/>
<line x1="358.68" y1="83.40" x2="358.68" y2="85.40" stroke="#111" stroke-width="0.75"/>
<line x1="359.12" y1="83.40" x2="359.12" y2="87.00" stroke="#111" stroke-width="0.75"/>
<line x1="361.99" y1="83.40" x2="361.99" y2="85.40" stroke="#111" stroke-width="0.75"/>
<line x1="363.67" y1="83.40" x2="363.67" y2="85.40" stroke="#111" stroke-width="0.75"/>
<line x1="364.86" y1="83.40" x2="364.86" y2="85.40" stroke="#111" stroke-width="0.75"/>
<line x1="365.78" y1="83.40" x2="365.78" y2="85.40" stroke="#111" stroke-width="0.75"/>
<line x1="366.54" y1="83.40" x2="366.54" y2="85.40" stroke="#111" stroke-width="0.75"/>
<line x1="367.18" y1="83.40" x2="367.18" y2="85.40" stroke="#111" stroke-width="0.75"/>
<line x1="367.73" y1="83.40" x2="367.73" y2="85.40" stroke="#111" stroke-width="0.75"/>
<line x1="368.22" y1="83.40" x2="368.22" y2="85.40" stroke="#111" stroke-width="0.75"/>
<line x1="368.65" y1="83.40" x2="368.65" y2="87.00" stroke="#111" stroke-width="0.75"/>
<line x1="371.53" y1="83.40" x2="371.53" y2="85.40" stroke="#111" stroke-width="0.75"/>
<line x1="373.20" y1="83.40" x2="373.20" y2="85.40" stroke="#111" stroke-width="0.75"/>
<text transform="translate(331.30,96.60) scale(0.92,1)" font-size="6.2" text-anchor="middle" fill="#000">10<tspan font-size="58%" dy="-0.62em">1</tspan></text>
<text transform="translate(340.84,96.60) scale(0.92,1)" font-size="6.2" text-anchor="middle" fill="#000">10<tspan font-size="58%" dy="-0.62em">2</tspan></text>
<text transform="translate(350.38,96.60) scale(0.92,1)" font-size="6.2" text-anchor="middle" fill="#000">10<tspan font-size="58%" dy="-0.62em">3</tspan></text>
<text transform="translate(359.92,96.60) scale(0.92,1)" font-size="6.2" text-anchor="middle" fill="#000">10<tspan font-size="58%" dy="-0.62em">4</tspan></text>
<text transform="translate(369.45,96.60) scale(0.92,1)" font-size="6.2" text-anchor="middle" fill="#000">10<tspan font-size="58%" dy="-0.62em">5</tspan></text>
<text transform="translate(350.30,32.30)" font-size="8.8" text-anchor="middle" fill="#000">4 weeks</text>
<line x1="385.70" y1="58.80" x2="434.50" y2="58.80" stroke="#8fa3cf" stroke-width="0.9"/>
<path d="M385.70,58.60 C386.75,58.53 390.18,58.22 392.00,58.20 C393.82,58.18 395.52,58.87 396.60,58.50 C397.68,58.13 397.80,56.95 398.50,56.00 C399.20,55.05 400.12,53.88 400.80,52.80 C401.48,51.72 402.03,49.80 402.60,49.50 C403.17,49.20 403.72,50.25 404.20,51.00 C404.68,51.75 405.00,53.40 405.50,54.00 C406.00,54.60 406.57,54.60 407.20,54.60 C407.83,54.60 408.57,54.22 409.30,54.00 C410.03,53.78 410.95,53.20 411.60,53.30 C412.25,53.40 412.60,54.22 413.20,54.60 C413.80,54.98 414.57,55.50 415.20,55.60 C415.83,55.70 416.37,55.25 417.00,55.20 C417.63,55.15 418.33,55.07 419.00,55.30 C419.67,55.53 420.30,56.28 421.00,56.60 C421.70,56.92 422.40,56.87 423.20,57.20 C424.00,57.53 423.92,58.33 425.80,58.60 C427.68,58.87 433.05,58.77 434.50,58.80 L434.50,58.80 L385.70,58.80 Z" fill="#7383bb" stroke="none"/>
<path d="M385.70,58.60 C386.75,58.53 390.18,58.22 392.00,58.20 C393.82,58.18 395.52,58.87 396.60,58.50 C397.68,58.13 397.80,56.95 398.50,56.00 C399.20,55.05 400.12,53.88 400.80,52.80 C401.48,51.72 402.03,49.80 402.60,49.50 C403.17,49.20 403.72,50.25 404.20,51.00 C404.68,51.75 405.00,53.40 405.50,54.00 C406.00,54.60 406.57,54.60 407.20,54.60 C407.83,54.60 408.57,54.22 409.30,54.00 C410.03,53.78 410.95,53.20 411.60,53.30 C412.25,53.40 412.60,54.22 413.20,54.60 C413.80,54.98 414.57,55.50 415.20,55.60 C415.83,55.70 416.37,55.25 417.00,55.20 C417.63,55.15 418.33,55.07 419.00,55.30 C419.67,55.53 420.30,56.28 421.00,56.60 C421.70,56.92 422.40,56.87 423.20,57.20 C424.00,57.53 423.92,58.33 425.80,58.60 C427.68,58.87 433.05,58.77 434.50,58.80" fill="none" stroke="#2c4989" stroke-width="0.9" stroke-linejoin="round"/>
<path d="M412.10,83.40 C412.42,83.00 413.35,81.90 414.00,81.00 C414.65,80.10 415.38,78.82 416.00,78.00 C416.62,77.18 417.10,76.10 417.70,76.10 C418.30,76.10 419.02,77.18 419.60,78.00 C420.18,78.82 420.58,80.10 421.20,81.00 C421.82,81.90 422.95,83.00 423.30,83.40 L423.30,83.40 L412.10,83.40 Z" fill="#d9927c" stroke="none"/>
<path d="M412.10,83.40 C412.42,83.00 413.35,81.90 414.00,81.00 C414.65,80.10 415.38,78.82 416.00,78.00 C416.62,77.18 417.10,76.10 417.70,76.10 C418.30,76.10 419.02,77.18 419.60,78.00 C420.18,78.82 420.58,80.10 421.20,81.00 C421.82,81.90 422.95,83.00 423.30,83.40" fill="none" stroke="#bf1f3d" stroke-width="0.9" stroke-linejoin="round"/>
<path d="M403.60,83.40 C403.80,83.22 404.40,82.30 404.80,82.30 C405.20,82.30 405.80,83.22 406.00,83.40 L406.00,83.40 L403.60,83.40 Z" fill="#d9927c" stroke="none"/>
<path d="M403.60,83.40 C403.80,83.22 404.40,82.30 404.80,82.30 C405.20,82.30 405.80,83.22 406.00,83.40" fill="none" stroke="#bf1f3d" stroke-width="0.9" stroke-linejoin="round"/>
<rect x="385.70" y="34.20" width="48.80" height="49.20" fill="none" stroke="#000" stroke-width="1.2"/>
<line x1="386.98" y1="83.40" x2="386.98" y2="85.40" stroke="#111" stroke-width="0.75"/>
<line x1="387.74" y1="83.40" x2="387.74" y2="85.40" stroke="#111" stroke-width="0.75"/>
<line x1="388.40" y1="83.40" x2="388.40" y2="85.40" stroke="#111" stroke-width="0.75"/>
<line x1="388.96" y1="83.40" x2="388.96" y2="85.40" stroke="#111" stroke-width="0.75"/>
<line x1="389.46" y1="83.40" x2="389.46" y2="85.40" stroke="#111" stroke-width="0.75"/>
<line x1="389.90" y1="83.40" x2="389.90" y2="87.00" stroke="#111" stroke-width="0.75"/>
<line x1="392.82" y1="83.40" x2="392.82" y2="85.40" stroke="#111" stroke-width="0.75"/>
<line x1="394.53" y1="83.40" x2="394.53" y2="85.40" stroke="#111" stroke-width="0.75"/>
<line x1="395.75" y1="83.40" x2="395.75" y2="85.40" stroke="#111" stroke-width="0.75"/>
<line x1="396.69" y1="83.40" x2="396.69" y2="85.40" stroke="#111" stroke-width="0.75"/>
<line x1="397.46" y1="83.40" x2="397.46" y2="85.40" stroke="#111" stroke-width="0.75"/>
<line x1="398.11" y1="83.40" x2="398.11" y2="85.40" stroke="#111" stroke-width="0.75"/>
<line x1="398.67" y1="83.40" x2="398.67" y2="85.40" stroke="#111" stroke-width="0.75"/>
<line x1="399.17" y1="83.40" x2="399.17" y2="85.40" stroke="#111" stroke-width="0.75"/>
<line x1="399.61" y1="83.40" x2="399.61" y2="87.00" stroke="#111" stroke-width="0.75"/>
<line x1="402.54" y1="83.40" x2="402.54" y2="85.40" stroke="#111" stroke-width="0.75"/>
<line x1="404.25" y1="83.40" x2="404.25" y2="85.40" stroke="#111" stroke-width="0.75"/>
<line x1="405.46" y1="83.40" x2="405.46" y2="85.40" stroke="#111" stroke-width="0.75"/>
<line x1="406.40" y1="83.40" x2="406.40" y2="85.40" stroke="#111" stroke-width="0.75"/>
<line x1="407.17" y1="83.40" x2="407.17" y2="85.40" stroke="#111" stroke-width="0.75"/>
<line x1="407.82" y1="83.40" x2="407.82" y2="85.40" stroke="#111" stroke-width="0.75"/>
<line x1="408.39" y1="83.40" x2="408.39" y2="85.40" stroke="#111" stroke-width="0.75"/>
<line x1="408.88" y1="83.40" x2="408.88" y2="85.40" stroke="#111" stroke-width="0.75"/>
<line x1="409.33" y1="83.40" x2="409.33" y2="87.00" stroke="#111" stroke-width="0.75"/>
<line x1="412.25" y1="83.40" x2="412.25" y2="85.40" stroke="#111" stroke-width="0.75"/>
<line x1="413.96" y1="83.40" x2="413.96" y2="85.40" stroke="#111" stroke-width="0.75"/>
<line x1="415.18" y1="83.40" x2="415.18" y2="85.40" stroke="#111" stroke-width="0.75"/>
<line x1="416.12" y1="83.40" x2="416.12" y2="85.40" stroke="#111" stroke-width="0.75"/>
<line x1="416.89" y1="83.40" x2="416.89" y2="85.40" stroke="#111" stroke-width="0.75"/>
<line x1="417.54" y1="83.40" x2="417.54" y2="85.40" stroke="#111" stroke-width="0.75"/>
<line x1="418.10" y1="83.40" x2="418.10" y2="85.40" stroke="#111" stroke-width="0.75"/>
<line x1="418.60" y1="83.40" x2="418.60" y2="85.40" stroke="#111" stroke-width="0.75"/>
<line x1="419.04" y1="83.40" x2="419.04" y2="87.00" stroke="#111" stroke-width="0.75"/>
<line x1="421.97" y1="83.40" x2="421.97" y2="85.40" stroke="#111" stroke-width="0.75"/>
<line x1="423.68" y1="83.40" x2="423.68" y2="85.40" stroke="#111" stroke-width="0.75"/>
<line x1="424.89" y1="83.40" x2="424.89" y2="85.40" stroke="#111" stroke-width="0.75"/>
<line x1="425.83" y1="83.40" x2="425.83" y2="85.40" stroke="#111" stroke-width="0.75"/>
<line x1="426.60" y1="83.40" x2="426.60" y2="85.40" stroke="#111" stroke-width="0.75"/>
<line x1="427.25" y1="83.40" x2="427.25" y2="85.40" stroke="#111" stroke-width="0.75"/>
<line x1="427.82" y1="83.40" x2="427.82" y2="85.40" stroke="#111" stroke-width="0.75"/>
<line x1="428.31" y1="83.40" x2="428.31" y2="85.40" stroke="#111" stroke-width="0.75"/>
<line x1="428.76" y1="83.40" x2="428.76" y2="87.00" stroke="#111" stroke-width="0.75"/>
<line x1="431.68" y1="83.40" x2="431.68" y2="85.40" stroke="#111" stroke-width="0.75"/>
<line x1="433.39" y1="83.40" x2="433.39" y2="85.40" stroke="#111" stroke-width="0.75"/>
<text transform="translate(390.70,96.60) scale(0.92,1)" font-size="6.2" text-anchor="middle" fill="#000">10<tspan font-size="58%" dy="-0.62em">1</tspan></text>
<text transform="translate(400.41,96.60) scale(0.92,1)" font-size="6.2" text-anchor="middle" fill="#000">10<tspan font-size="58%" dy="-0.62em">2</tspan></text>
<text transform="translate(410.13,96.60) scale(0.92,1)" font-size="6.2" text-anchor="middle" fill="#000">10<tspan font-size="58%" dy="-0.62em">3</tspan></text>
<text transform="translate(419.84,96.60) scale(0.92,1)" font-size="6.2" text-anchor="middle" fill="#000">10<tspan font-size="58%" dy="-0.62em">4</tspan></text>
<text transform="translate(429.56,96.60) scale(0.92,1)" font-size="6.2" text-anchor="middle" fill="#000">10<tspan font-size="58%" dy="-0.62em">5</tspan></text>
<text transform="translate(410.10,32.30)" font-size="8.8" text-anchor="middle" fill="#000">8 weeks</text>
<text transform="translate(268.20,42.40)" font-size="6.6" text-anchor="start" fill="#4566a8">Atg7<tspan font-size="64%" dy="-0.42em">fl/fl</tspan></text>
<text transform="translate(268.20,68.00) scale(0.94,1)" font-size="6.6" text-anchor="start" fill="#c5304d">Atg7<tspan font-size="64%" dy="-0.42em">fl/fl</tspan><tspan dy="0.269em">; Vav-Cre</tspan></text>
<path d="M257.4,78 L257.4,103.7 L408,103.7" fill="none" stroke="#000" stroke-width="1.1"/>
<path d="M257.40,73.80 L254.60,80.60 L260.20,80.60 Z" fill="#000"/>
<path d="M413.30,103.70 L406.50,100.90 L406.50,106.50 Z" fill="#000"/>
<text transform="translate(260.70,49.30) rotate(-90) scale(0.6975,1)" font-size="10.2" text-anchor="middle" fill="#000" font-weight="bold">Cell number</text>
<text transform="translate(417.50,108.00) scale(0.7254,1)" font-size="10.2" text-anchor="start" fill="#000" font-weight="bold">JC- 1 Red</text>
<line x1="65.60" y1="124.00" x2="65.60" y2="209.20" stroke="#000" stroke-width="1.1"/>
<line x1="62.20" y1="208.60" x2="65.60" y2="208.60" stroke="#000" stroke-width="1.1"/>
<text transform="translate(58.20,211.60) scale(1.07,1)" font-size="8.7" text-anchor="end" fill="#000">0</text>
<line x1="62.20" y1="200.46" x2="65.60" y2="200.46" stroke="#000" stroke-width="1.1"/>
<text transform="translate(58.20,203.46) scale(1.07,1)" font-size="8.7" text-anchor="end" fill="#000">10</text>
<line x1="62.20" y1="192.32" x2="65.60" y2="192.32" stroke="#000" stroke-width="1.1"/>
<text transform="translate(58.20,195.32) scale(1.07,1)" font-size="8.7" text-anchor="end" fill="#000">20</text>
<line x1="62.20" y1="184.18" x2="65.60" y2="184.18" stroke="#000" stroke-width="1.1"/>
<text transform="translate(58.20,187.18) scale(1.07,1)" font-size="8.7" text-anchor="end" fill="#000">30</text>
<line x1="62.20" y1="176.04" x2="65.60" y2="176.04" stroke="#000" stroke-width="1.1"/>
<text transform="translate(58.20,179.04) scale(1.07,1)" font-size="8.7" text-anchor="end" fill="#000">40</text>
<line x1="62.20" y1="167.90" x2="65.60" y2="167.90" stroke="#000" stroke-width="1.1"/>
<text transform="translate(58.20,170.90) scale(1.07,1)" font-size="8.7" text-anchor="end" fill="#000">50</text>
<line x1="62.20" y1="159.76" x2="65.60" y2="159.76" stroke="#000" stroke-width="1.1"/>
<text transform="translate(58.20,162.76) scale(1.07,1)" font-size="8.7" text-anchor="end" fill="#000">60</text>
<line x1="62.20" y1="151.62" x2="65.60" y2="151.62" stroke="#000" stroke-width="1.1"/>
<text transform="translate(58.20,154.62) scale(1.07,1)" font-size="8.7" text-anchor="end" fill="#000">70</text>
<line x1="62.20" y1="143.48" x2="65.60" y2="143.48" stroke="#000" stroke-width="1.1"/>
<text transform="translate(58.20,146.48) scale(1.07,1)" font-size="8.7" text-anchor="end" fill="#000">80</text>
<line x1="62.20" y1="135.34" x2="65.60" y2="135.34" stroke="#000" stroke-width="1.1"/>
<text transform="translate(58.20,138.34) scale(1.07,1)" font-size="8.7" text-anchor="end" fill="#000">90</text>
<line x1="62.20" y1="127.20" x2="65.60" y2="127.20" stroke="#000" stroke-width="1.1"/>
<text transform="translate(58.20,130.20) scale(1.07,1)" font-size="8.7" text-anchor="end" fill="#000">100</text>
<line x1="65.00" y1="208.80" x2="216.00" y2="208.80" stroke="#000" stroke-width="1.1"/>
<line x1="65.80" y1="208.80" x2="65.80" y2="212.40" stroke="#000" stroke-width="1.1"/>
<line x1="90.30" y1="208.80" x2="90.30" y2="212.40" stroke="#000" stroke-width="1.1"/>
<text transform="translate(90.30,224.40) scale(1.07,1)" font-size="8.7" text-anchor="middle" fill="#000">10</text>
<line x1="114.80" y1="208.80" x2="114.80" y2="212.40" stroke="#000" stroke-width="1.1"/>
<text transform="translate(114.80,224.40) scale(1.07,1)" font-size="8.7" text-anchor="middle" fill="#000">20</text>
<line x1="139.30" y1="208.80" x2="139.30" y2="212.40" stroke="#000" stroke-width="1.1"/>
<text transform="translate(139.30,224.40) scale(1.07,1)" font-size="8.7" text-anchor="middle" fill="#000">30</text>
<line x1="163.80" y1="208.80" x2="163.80" y2="212.40" stroke="#000" stroke-width="1.1"/>
<text transform="translate(163.80,224.40) scale(1.07,1)" font-size="8.7" text-anchor="middle" fill="#000">40</text>
<line x1="188.30" y1="208.80" x2="188.30" y2="212.40" stroke="#000" stroke-width="1.1"/>
<text transform="translate(188.30,224.40) scale(1.07,1)" font-size="8.7" text-anchor="middle" fill="#000">50</text>
<line x1="212.80" y1="208.80" x2="212.80" y2="212.40" stroke="#000" stroke-width="1.1"/>
<text transform="translate(212.80,224.40) scale(1.07,1)" font-size="8.7" text-anchor="middle" fill="#000">60</text>
<text transform="translate(141.50,238.60) scale(0.7068,1)" font-size="10.2" text-anchor="middle" fill="#000" font-weight="bold">Days post delivered</text>
<text transform="translate(34.60,166.40) rotate(-90) scale(0.758,1)" font-size="10.2" text-anchor="middle" fill="#000" font-weight="bold">% EdC<tspan font-size="62%" dy="-0.5em">+</tspan><tspan dy="0.31em"> cells</tspan></text>
<line x1="77.31" y1="145.11" x2="77.31" y2="135.34" stroke="#c5304d" stroke-width="1.05"/>
<line x1="76.02" y1="135.34" x2="78.61" y2="135.34" stroke="#c5304d" stroke-width="1.05"/>
<line x1="134.40" y1="158.95" x2="134.40" y2="154.06" stroke="#c5304d" stroke-width="1.05"/>
<line x1="133.10" y1="154.06" x2="135.70" y2="154.06" stroke="#c5304d" stroke-width="1.05"/>
<line x1="203.00" y1="170.34" x2="203.00" y2="157.32" stroke="#c5304d" stroke-width="1.05"/>
<line x1="201.70" y1="157.32" x2="204.30" y2="157.32" stroke="#c5304d" stroke-width="1.05"/>
<line x1="77.31" y1="153.25" x2="77.31" y2="145.51" stroke="#4566a8" stroke-width="1.05"/>
<line x1="77.31" y1="145.51" x2="77.31" y2="145.51" stroke="#4566a8" stroke-width="1.05"/>
<line x1="134.40" y1="178.48" x2="134.40" y2="169.53" stroke="#4566a8" stroke-width="1.05"/>
<line x1="133.10" y1="169.53" x2="135.70" y2="169.53" stroke="#4566a8" stroke-width="1.05"/>
<line x1="203.00" y1="195.58" x2="203.00" y2="194.35" stroke="#4566a8" stroke-width="1.05"/>
<line x1="203.00" y1="194.35" x2="203.00" y2="194.35" stroke="#4566a8" stroke-width="1.05"/>
<polyline points="77.31,153.25 134.40,178.48 203.00,195.58" fill="none" stroke="#4566a8" stroke-width="1.0"/>
<polyline points="77.31,145.11 134.40,158.95 203.00,170.34" fill="none" stroke="#c5304d" stroke-width="1.0"/>
<circle cx="77.31" cy="153.25" r="1.7" fill="#2f4d8c"/>
<circle cx="134.40" cy="178.48" r="1.7" fill="#2f4d8c"/>
<circle cx="203.00" cy="195.58" r="1.7" fill="#2f4d8c"/>
<circle cx="77.31" cy="145.11" r="1.7" fill="#a60f2f"/>
<circle cx="134.40" cy="158.95" r="1.7" fill="#a60f2f"/>
<circle cx="203.00" cy="170.34" r="1.7" fill="#a60f2f"/>
<circle cx="134.40" cy="149.00" r="1.25" fill="#1a1a1a"/>
<circle cx="203.00" cy="152.70" r="1.25" fill="#1a1a1a"/>
<circle cx="156.00" cy="129.90" r="2.0" fill="#2f4d8c"/>
<text transform="translate(161.60,132.60)" font-size="8.9" text-anchor="start" fill="#34549a">Atg7<tspan font-size="64%" dy="-0.42em">fl/fl</tspan></text>
<circle cx="155.80" cy="146.50" r="2.0" fill="#a60f2f"/>
<text transform="translate(161.60,145.90)" font-size="8.9" text-anchor="start" fill="#b82242">Atg7<tspan font-size="64%" dy="-0.42em">fl/fl</tspan><tspan dy="0.269em">;</tspan></text>
<text transform="translate(161.60,156.70) scale(0.9,1)" font-size="8.9" text-anchor="start" fill="#b82242">Vav-Cre</text>
<line x1="271.70" y1="124.00" x2="271.70" y2="209.20" stroke="#000" stroke-width="1.1"/>
<line x1="268.30" y1="208.80" x2="271.70" y2="208.80" stroke="#000" stroke-width="1.1"/>
<text transform="translate(264.40,211.80) scale(1.07,1)" font-size="8.7" text-anchor="end" fill="#000">0</text>
<line x1="268.30" y1="199.69" x2="271.70" y2="199.69" stroke="#000" stroke-width="1.1"/>
<text transform="translate(264.40,202.69) scale(1.07,1)" font-size="8.7" text-anchor="end" fill="#000">2</text>
<line x1="268.30" y1="190.58" x2="271.70" y2="190.58" stroke="#000" stroke-width="1.1"/>
<text transform="translate(264.40,193.58) scale(1.07,1)" font-size="8.7" text-anchor="end" fill="#000">4</text>
<line x1="268.30" y1="181.46" x2="271.70" y2="181.46" stroke="#000" stroke-width="1.1"/>
<text transform="translate(264.40,184.46) scale(1.07,1)" font-size="8.7" text-anchor="end" fill="#000">6</text>
<line x1="268.30" y1="172.35" x2="271.70" y2="172.35" stroke="#000" stroke-width="1.1"/>
<text transform="translate(264.40,175.35) scale(1.07,1)" font-size="8.7" text-anchor="end" fill="#000">8</text>
<line x1="268.30" y1="163.24" x2="271.70" y2="163.24" stroke="#000" stroke-width="1.1"/>
<text transform="translate(264.40,166.24) scale(1.07,1)" font-size="8.7" text-anchor="end" fill="#000">10</text>
<line x1="268.30" y1="154.13" x2="271.70" y2="154.13" stroke="#000" stroke-width="1.1"/>
<text transform="translate(264.40,157.13) scale(1.07,1)" font-size="8.7" text-anchor="end" fill="#000">12</text>
<line x1="268.30" y1="145.02" x2="271.70" y2="145.02" stroke="#000" stroke-width="1.1"/>
<text transform="translate(264.40,148.02) scale(1.07,1)" font-size="8.7" text-anchor="end" fill="#000">14</text>
<line x1="268.30" y1="135.90" x2="271.70" y2="135.90" stroke="#000" stroke-width="1.1"/>
<text transform="translate(264.40,138.90) scale(1.07,1)" font-size="8.7" text-anchor="end" fill="#000">16</text>
<line x1="268.30" y1="126.79" x2="271.70" y2="126.79" stroke="#000" stroke-width="1.1"/>
<text transform="translate(264.40,129.79) scale(1.07,1)" font-size="8.7" text-anchor="end" fill="#000">18</text>
<line x1="271.00" y1="208.80" x2="425.00" y2="208.80" stroke="#000" stroke-width="1.1"/>
<line x1="272.00" y1="208.80" x2="272.00" y2="212.40" stroke="#000" stroke-width="1.1"/>
<line x1="297.00" y1="208.80" x2="297.00" y2="212.40" stroke="#000" stroke-width="1.1"/>
<text transform="translate(297.00,224.40) scale(1.07,1)" font-size="8.7" text-anchor="middle" fill="#000">10</text>
<line x1="322.00" y1="208.80" x2="322.00" y2="212.40" stroke="#000" stroke-width="1.1"/>
<text transform="translate(322.00,224.40) scale(1.07,1)" font-size="8.7" text-anchor="middle" fill="#000">20</text>
<line x1="347.00" y1="208.80" x2="347.00" y2="212.40" stroke="#000" stroke-width="1.1"/>
<text transform="translate(347.00,224.40) scale(1.07,1)" font-size="8.7" text-anchor="middle" fill="#000">30</text>
<line x1="372.00" y1="208.80" x2="372.00" y2="212.40" stroke="#000" stroke-width="1.1"/>
<text transform="translate(372.00,224.40) scale(1.07,1)" font-size="8.7" text-anchor="middle" fill="#000">40</text>
<line x1="397.00" y1="208.80" x2="397.00" y2="212.40" stroke="#000" stroke-width="1.1"/>
<text transform="translate(397.00,224.40) scale(1.07,1)" font-size="8.7" text-anchor="middle" fill="#000">50</text>
<line x1="422.00" y1="208.80" x2="422.00" y2="212.40" stroke="#000" stroke-width="1.1"/>
<text transform="translate(422.00,224.40) scale(1.07,1)" font-size="8.7" text-anchor="middle" fill="#000">60</text>
<text transform="translate(348.50,238.60) scale(0.7068,1)" font-size="10.2" text-anchor="middle" fill="#000" font-weight="bold">Days post delivered</text>
<text transform="translate(246.80,166.70) rotate(-90) scale(0.7533,1)" font-size="10.2" text-anchor="middle" fill="#000" font-weight="bold">Relative MFI of JC1-Red</text>
<line x1="283.75" y1="140.00" x2="283.75" y2="131.58" stroke="#c5304d" stroke-width="1.05"/>
<line x1="282.45" y1="131.58" x2="285.05" y2="131.58" stroke="#c5304d" stroke-width="1.05"/>
<line x1="342.00" y1="196.95" x2="342.00" y2="195.13" stroke="#c5304d" stroke-width="1.05"/>
<line x1="342.00" y1="195.13" x2="342.00" y2="195.13" stroke="#c5304d" stroke-width="1.05"/>
<line x1="412.00" y1="175.09" x2="412.00" y2="160.96" stroke="#c5304d" stroke-width="1.05"/>
<line x1="410.70" y1="160.96" x2="413.30" y2="160.96" stroke="#c5304d" stroke-width="1.05"/>
<line x1="283.75" y1="146.84" x2="283.75" y2="140.46" stroke="#4566a8" stroke-width="1.05"/>
<line x1="283.75" y1="140.46" x2="283.75" y2="140.46" stroke="#4566a8" stroke-width="1.05"/>
<polyline points="283.75,146.84 342.00,204.24 412.00,204.24" fill="none" stroke="#4566a8" stroke-width="1.0"/>
<polyline points="283.75,140.00 342.00,196.95 412.00,175.09" fill="none" stroke="#c5304d" stroke-width="1.0"/>
<circle cx="283.75" cy="146.84" r="1.7" fill="#2f4d8c"/>
<circle cx="342.00" cy="204.24" r="1.7" fill="#2f4d8c"/>
<circle cx="412.00" cy="204.24" r="1.7" fill="#2f4d8c"/>
<circle cx="283.75" cy="140.00" r="1.7" fill="#a60f2f"/>
<circle cx="342.00" cy="196.95" r="1.7" fill="#a60f2f"/>
<circle cx="412.00" cy="175.09" r="1.7" fill="#a60f2f"/>
<circle cx="342.00" cy="191.00" r="1.25" fill="#1a1a1a"/>
<circle cx="412.00" cy="156.50" r="1.25" fill="#1a1a1a"/>
<circle cx="370.00" cy="134.10" r="2.1" fill="#2f4d8c"/>
<text transform="translate(375.80,135.80)" font-size="8.9" text-anchor="start" fill="#34549a">Atg7<tspan font-size="64%" dy="-0.42em">fl/fl</tspan></text>
<circle cx="370.00" cy="150.20" r="2.1" fill="#a60f2f"/>
<text transform="translate(375.80,149.20)" font-size="8.9" text-anchor="start" fill="#b82242">Atg7<tspan font-size="64%" dy="-0.42em">fl/fl</tspan></text>
<text transform="translate(375.80,159.70) scale(0.9,1)" font-size="8.9" text-anchor="start" fill="#b82242">Vav-Cre</text>
<rect x="70.40" y="290.31" width="7.20" height="51.08" fill="#2f4d8c" stroke="#23407c" stroke-width="0.7"/>
<line x1="74.00" y1="290.31" x2="74.00" y2="285.51" stroke="#222" stroke-width="1.3"/>
<line x1="71.60" y1="285.51" x2="76.40" y2="285.51" stroke="#222" stroke-width="1.3"/>
<rect x="87.20" y="297.33" width="7.20" height="44.07" fill="#a60f2f" stroke="#8e0a27" stroke-width="0.7"/>
<line x1="90.80" y1="297.33" x2="90.80" y2="293.32" stroke="#222" stroke-width="1.3"/>
<line x1="88.40" y1="293.32" x2="93.20" y2="293.32" stroke="#222" stroke-width="1.3"/>
<line x1="65.20" y1="278.80" x2="65.20" y2="341.90" stroke="#000" stroke-width="1.1"/>
<line x1="61.80" y1="341.40" x2="65.20" y2="341.40" stroke="#000" stroke-width="1.1"/>
<text transform="translate(58.10,344.40) scale(1.07,1)" font-size="8.7" text-anchor="end" fill="#000">0</text>
<line x1="61.80" y1="331.38" x2="65.20" y2="331.38" stroke="#000" stroke-width="1.1"/>
<text transform="translate(58.10,334.38) scale(1.07,1)" font-size="8.7" text-anchor="end" fill="#000">0.5</text>
<line x1="61.80" y1="321.37" x2="65.20" y2="321.37" stroke="#000" stroke-width="1.1"/>
<text transform="translate(58.10,324.37) scale(1.07,1)" font-size="8.7" text-anchor="end" fill="#000">1</text>
<line x1="61.80" y1="311.35" x2="65.20" y2="311.35" stroke="#000" stroke-width="1.1"/>
<text transform="translate(58.10,314.35) scale(1.07,1)" font-size="8.7" text-anchor="end" fill="#000">1.5</text>
<line x1="61.80" y1="301.33" x2="65.20" y2="301.33" stroke="#000" stroke-width="1.1"/>
<text transform="translate(58.10,304.33) scale(1.07,1)" font-size="8.7" text-anchor="end" fill="#000">2</text>
<line x1="61.80" y1="291.32" x2="65.20" y2="291.32" stroke="#000" stroke-width="1.1"/>
<text transform="translate(58.10,294.32) scale(1.07,1)" font-size="8.7" text-anchor="end" fill="#000">2.5</text>
<line x1="61.80" y1="281.30" x2="65.20" y2="281.30" stroke="#000" stroke-width="1.1"/>
<text transform="translate(58.10,284.30) scale(1.07,1)" font-size="8.7" text-anchor="end" fill="#000">3</text>
<line x1="65.20" y1="341.40" x2="102.60" y2="341.40" stroke="#000" stroke-width="1.1"/>
<line x1="65.20" y1="341.40" x2="65.20" y2="345.20" stroke="#000" stroke-width="1.1"/>
<line x1="82.78" y1="341.40" x2="82.78" y2="345.20" stroke="#000" stroke-width="1.1"/>
<line x1="100.00" y1="341.40" x2="100.00" y2="345.20" stroke="#000" stroke-width="1.1"/>
<text transform="translate(84.60,270.80) scale(1.05,1)" font-size="10.6" text-anchor="middle" fill="#000">P5</text>
<text transform="translate(77.70,353.20) rotate(-45)" font-size="10.2" text-anchor="end" fill="#000">Atg7<tspan font-size="65%" dy="-0.42em">fl/fl</tspan></text>
<text transform="translate(95.10,352.30) rotate(-45)" font-size="10.2" text-anchor="end" fill="#000">Atg7<tspan font-size="65%" dy="-0.42em">fl/fl</tspan><tspan dy="0.273em">,</tspan></text>
<text transform="translate(102.70,361.00) rotate(-45) scale(0.87,1)" font-size="10.2" text-anchor="end" fill="#000">Vav-Cre</text>
<rect x="141.20" y="290.39" width="5.80" height="51.31" fill="#2f4d8c" stroke="#23407c" stroke-width="0.7"/>
<line x1="144.10" y1="290.39" x2="144.10" y2="285.12" stroke="#222" stroke-width="1.3"/>
<line x1="141.70" y1="285.12" x2="146.50" y2="285.12" stroke="#222" stroke-width="1.3"/>
<rect x="157.70" y="312.75" width="6.30" height="28.95" fill="#a60f2f" stroke="#8e0a27" stroke-width="0.7"/>
<line x1="160.85" y1="312.75" x2="160.85" y2="307.05" stroke="#222" stroke-width="1.3"/>
<line x1="158.45" y1="307.05" x2="163.25" y2="307.05" stroke="#222" stroke-width="1.3"/>
<line x1="136.60" y1="277.80" x2="136.60" y2="342.20" stroke="#000" stroke-width="1.1"/>
<line x1="133.20" y1="341.70" x2="136.60" y2="341.70" stroke="#000" stroke-width="1.1"/>
<text transform="translate(129.50,344.70) scale(1.07,1)" font-size="8.7" text-anchor="end" fill="#000">0</text>
<line x1="133.20" y1="332.93" x2="136.60" y2="332.93" stroke="#000" stroke-width="1.1"/>
<text transform="translate(129.50,335.93) scale(1.07,1)" font-size="8.7" text-anchor="end" fill="#000">0.2</text>
<line x1="133.20" y1="324.16" x2="136.60" y2="324.16" stroke="#000" stroke-width="1.1"/>
<text transform="translate(129.50,327.16) scale(1.07,1)" font-size="8.7" text-anchor="end" fill="#000">0.4</text>
<line x1="133.20" y1="315.39" x2="136.60" y2="315.39" stroke="#000" stroke-width="1.1"/>
<text transform="translate(129.50,318.39) scale(1.07,1)" font-size="8.7" text-anchor="end" fill="#000">0.6</text>
<line x1="133.20" y1="306.61" x2="136.60" y2="306.61" stroke="#000" stroke-width="1.1"/>
<text transform="translate(129.50,309.61) scale(1.07,1)" font-size="8.7" text-anchor="end" fill="#000">0.8</text>
<line x1="133.20" y1="297.84" x2="136.60" y2="297.84" stroke="#000" stroke-width="1.1"/>
<text transform="translate(129.50,300.84) scale(1.07,1)" font-size="8.7" text-anchor="end" fill="#000">1</text>
<line x1="133.20" y1="289.07" x2="136.60" y2="289.07" stroke="#000" stroke-width="1.1"/>
<text transform="translate(129.50,292.07) scale(1.07,1)" font-size="8.7" text-anchor="end" fill="#000">1.2</text>
<line x1="133.20" y1="280.30" x2="136.60" y2="280.30" stroke="#000" stroke-width="1.1"/>
<text transform="translate(129.50,283.30) scale(1.07,1)" font-size="8.7" text-anchor="end" fill="#000">1.4</text>
<line x1="136.60" y1="341.70" x2="171.50" y2="341.70" stroke="#000" stroke-width="1.1"/>
<line x1="136.60" y1="341.70" x2="136.60" y2="345.50" stroke="#000" stroke-width="1.1"/>
<line x1="153.00" y1="341.70" x2="153.00" y2="345.50" stroke="#000" stroke-width="1.1"/>
<line x1="168.90" y1="341.70" x2="168.90" y2="345.50" stroke="#000" stroke-width="1.1"/>
<text transform="translate(154.00,270.80) scale(1.05,1)" font-size="10.6" text-anchor="middle" fill="#000">4 weeks</text>
<line x1="143.80" y1="282.80" x2="161.60" y2="282.80" stroke="#000" stroke-width="1.1"/>
<text transform="translate(152.70,280.70) scale(1.1,1)" font-size="8.6" text-anchor="middle" fill="#000">P=0.06</text>
<text transform="translate(147.80,353.50) rotate(-45)" font-size="10.2" text-anchor="end" fill="#000">Atg7<tspan font-size="65%" dy="-0.42em">fl/fl</tspan></text>
<text transform="translate(165.15,352.60) rotate(-45)" font-size="10.2" text-anchor="end" fill="#000">Atg7<tspan font-size="65%" dy="-0.42em">fl/fl</tspan><tspan dy="0.273em">,</tspan></text>
<text transform="translate(172.75,361.30) rotate(-45) scale(0.87,1)" font-size="10.2" text-anchor="end" fill="#000">Vav-Cre</text>
<rect x="209.00" y="290.32" width="6.40" height="51.38" fill="#2f4d8c" stroke="#23407c" stroke-width="0.7"/>
<line x1="212.20" y1="290.32" x2="212.20" y2="288.50" stroke="#222" stroke-width="1.3"/>
<line x1="209.80" y1="288.50" x2="214.60" y2="288.50" stroke="#222" stroke-width="1.3"/>
<rect x="227.00" y="320.72" width="6.50" height="20.98" fill="#a60f2f" stroke="#8e0a27" stroke-width="0.7"/>
<line x1="230.25" y1="320.72" x2="230.25" y2="319.51" stroke="#222" stroke-width="1.3"/>
<line x1="227.85" y1="319.51" x2="232.65" y2="319.51" stroke="#222" stroke-width="1.3"/>
<line x1="203.30" y1="278.40" x2="203.30" y2="342.20" stroke="#000" stroke-width="1.1"/>
<line x1="199.90" y1="341.70" x2="203.30" y2="341.70" stroke="#000" stroke-width="1.1"/>
<text transform="translate(196.20,344.70) scale(1.07,1)" font-size="8.7" text-anchor="end" fill="#000">0</text>
<line x1="199.90" y1="326.50" x2="203.30" y2="326.50" stroke="#000" stroke-width="1.1"/>
<text transform="translate(196.20,329.50) scale(1.07,1)" font-size="8.7" text-anchor="end" fill="#000">5</text>
<line x1="199.90" y1="311.30" x2="203.30" y2="311.30" stroke="#000" stroke-width="1.1"/>
<text transform="translate(196.20,314.30) scale(1.07,1)" font-size="8.7" text-anchor="end" fill="#000">10</text>
<line x1="199.90" y1="296.10" x2="203.30" y2="296.10" stroke="#000" stroke-width="1.1"/>
<text transform="translate(196.20,299.10) scale(1.07,1)" font-size="8.7" text-anchor="end" fill="#000">15</text>
<line x1="199.90" y1="280.90" x2="203.30" y2="280.90" stroke="#000" stroke-width="1.1"/>
<text transform="translate(196.20,283.90) scale(1.07,1)" font-size="8.7" text-anchor="end" fill="#000">20</text>
<line x1="203.30" y1="341.70" x2="241.30" y2="341.70" stroke="#000" stroke-width="1.1"/>
<line x1="203.30" y1="341.70" x2="203.30" y2="345.50" stroke="#000" stroke-width="1.1"/>
<line x1="221.16" y1="341.70" x2="221.16" y2="345.50" stroke="#000" stroke-width="1.1"/>
<line x1="238.70" y1="341.70" x2="238.70" y2="345.50" stroke="#000" stroke-width="1.1"/>
<text transform="translate(223.00,270.80) scale(1.05,1)" font-size="10.6" text-anchor="middle" fill="#000">8 weeks</text>
<line x1="214.00" y1="283.30" x2="231.00" y2="283.30" stroke="#000" stroke-width="1.1"/>
<circle cx="222.50" cy="278.80" r="1.25" fill="#1a1a1a"/>
<text transform="translate(215.90,353.50) rotate(-45)" font-size="10.2" text-anchor="end" fill="#000">Atg7<tspan font-size="65%" dy="-0.42em">fl/fl</tspan></text>
<text transform="translate(234.55,352.60) rotate(-45)" font-size="10.2" text-anchor="end" fill="#000">Atg7<tspan font-size="65%" dy="-0.42em">fl/fl</tspan><tspan dy="0.273em">,</tspan></text>
<text transform="translate(242.15,361.30) rotate(-45) scale(0.87,1)" font-size="10.2" text-anchor="end" fill="#000">Vav-Cre</text>
<text transform="translate(26.20,309.80) rotate(-90) scale(0.76,1)" font-size="10.2" text-anchor="middle" fill="#000" stroke="#000" stroke-width="0.28">Total BM cell number</text>
<text transform="translate(39.40,309.80) rotate(-90) scale(0.83,1)" font-size="10.2" text-anchor="middle" fill="#000" stroke="#000" stroke-width="0.28">(X 10<tspan font-size="56%" dy="-0.62em">7</tspan><tspan dy="0.35em">)</tspan></text>
<rect x="313.80" y="293.89" width="6.70" height="47.61" fill="#2f4d8c" stroke="#23407c" stroke-width="0.7"/>
<line x1="317.15" y1="293.89" x2="317.15" y2="292.90" stroke="#222" stroke-width="1.3"/>
<line x1="314.75" y1="292.90" x2="319.55" y2="292.90" stroke="#222" stroke-width="1.3"/>
<rect x="330.00" y="294.40" width="6.70" height="47.10" fill="#a60f2f" stroke="#8e0a27" stroke-width="0.7"/>
<line x1="333.35" y1="294.40" x2="333.35" y2="293.50" stroke="#222" stroke-width="1.3"/>
<line x1="330.95" y1="293.50" x2="335.75" y2="293.50" stroke="#222" stroke-width="1.3"/>
<line x1="309.20" y1="279.00" x2="309.20" y2="342.00" stroke="#000" stroke-width="1.1"/>
<line x1="305.80" y1="341.50" x2="309.20" y2="341.50" stroke="#000" stroke-width="1.1"/>
<text transform="translate(302.10,344.50) scale(1.07,1)" font-size="8.7" text-anchor="end" fill="#000">0</text>
<line x1="305.80" y1="326.50" x2="309.20" y2="326.50" stroke="#000" stroke-width="1.1"/>
<text transform="translate(302.10,329.50) scale(1.07,1)" font-size="8.7" text-anchor="end" fill="#000">0.005</text>
<line x1="305.80" y1="311.50" x2="309.20" y2="311.50" stroke="#000" stroke-width="1.1"/>
<text transform="translate(302.10,314.50) scale(1.07,1)" font-size="8.7" text-anchor="end" fill="#000">0.01</text>
<line x1="305.80" y1="296.50" x2="309.20" y2="296.50" stroke="#000" stroke-width="1.1"/>
<text transform="translate(302.10,299.50) scale(1.07,1)" font-size="8.7" text-anchor="end" fill="#000">0.015</text>
<line x1="305.80" y1="281.50" x2="309.20" y2="281.50" stroke="#000" stroke-width="1.1"/>
<text transform="translate(302.10,284.50) scale(1.07,1)" font-size="8.7" text-anchor="end" fill="#000">0.02</text>
<line x1="309.20" y1="341.50" x2="344.80" y2="341.50" stroke="#000" stroke-width="1.1"/>
<line x1="309.20" y1="341.50" x2="309.20" y2="345.30" stroke="#000" stroke-width="1.1"/>
<line x1="325.93" y1="341.50" x2="325.93" y2="345.30" stroke="#000" stroke-width="1.1"/>
<line x1="342.20" y1="341.50" x2="342.20" y2="345.30" stroke="#000" stroke-width="1.1"/>
<text transform="translate(326.70,270.80) scale(1.05,1)" font-size="10.6" text-anchor="middle" fill="#000">P5</text>
<text transform="translate(320.85,353.30) rotate(-45)" font-size="10.2" text-anchor="end" fill="#000">Atg7<tspan font-size="65%" dy="-0.42em">fl/fl</tspan></text>
<text transform="translate(337.65,352.40) rotate(-45)" font-size="10.2" text-anchor="end" fill="#000">Atg7<tspan font-size="65%" dy="-0.42em">fl/fl</tspan><tspan dy="0.273em">,</tspan></text>
<text transform="translate(345.25,361.10) rotate(-45) scale(0.87,1)" font-size="10.2" text-anchor="end" fill="#000">Vav-Cre</text>
<rect x="395.40" y="300.83" width="6.80" height="39.97" fill="#2f4d8c" stroke="#23407c" stroke-width="0.7"/>
<line x1="398.80" y1="300.83" x2="398.80" y2="295.20" stroke="#222" stroke-width="1.3"/>
<line x1="396.40" y1="295.20" x2="401.20" y2="295.20" stroke="#222" stroke-width="1.3"/>
<rect x="410.80" y="334.05" width="7.00" height="6.75" fill="#a60f2f" stroke="#8e0a27" stroke-width="0.7"/>
<line x1="414.30" y1="334.05" x2="414.30" y2="331.50" stroke="#222" stroke-width="1.3"/>
<line x1="411.90" y1="331.50" x2="416.70" y2="331.50" stroke="#222" stroke-width="1.3"/>
<line x1="390.80" y1="278.30" x2="390.80" y2="341.30" stroke="#000" stroke-width="1.1"/>
<line x1="387.40" y1="340.80" x2="390.80" y2="340.80" stroke="#000" stroke-width="1.1"/>
<text transform="translate(383.70,343.80) scale(1.07,1)" font-size="8.7" text-anchor="end" fill="#000">0</text>
<line x1="387.40" y1="325.80" x2="390.80" y2="325.80" stroke="#000" stroke-width="1.1"/>
<text transform="translate(383.70,328.80) scale(1.07,1)" font-size="8.7" text-anchor="end" fill="#000">0.002</text>
<line x1="387.40" y1="310.80" x2="390.80" y2="310.80" stroke="#000" stroke-width="1.1"/>
<text transform="translate(383.70,313.80) scale(1.07,1)" font-size="8.7" text-anchor="end" fill="#000">0.004</text>
<line x1="387.40" y1="295.80" x2="390.80" y2="295.80" stroke="#000" stroke-width="1.1"/>
<text transform="translate(383.70,298.80) scale(1.07,1)" font-size="8.7" text-anchor="end" fill="#000">0.006</text>
<line x1="387.40" y1="280.80" x2="390.80" y2="280.80" stroke="#000" stroke-width="1.1"/>
<text transform="translate(383.70,283.80) scale(1.07,1)" font-size="8.7" text-anchor="end" fill="#000">0.008</text>
<line x1="390.80" y1="340.80" x2="424.60" y2="340.80" stroke="#000" stroke-width="1.1"/>
<line x1="390.80" y1="340.80" x2="390.80" y2="344.60" stroke="#000" stroke-width="1.1"/>
<line x1="406.69" y1="340.80" x2="406.69" y2="344.60" stroke="#000" stroke-width="1.1"/>
<line x1="422.00" y1="340.80" x2="422.00" y2="344.60" stroke="#000" stroke-width="1.1"/>
<text transform="translate(408.30,270.80) scale(1.05,1)" font-size="10.6" text-anchor="middle" fill="#000">4 weeks</text>
<line x1="397.80" y1="292.70" x2="415.40" y2="292.70" stroke="#000" stroke-width="1.1"/>
<circle cx="406.60" cy="288.20" r="1.25" fill="#1a1a1a"/>
<text transform="translate(402.50,352.60) rotate(-45)" font-size="10.2" text-anchor="end" fill="#000">Atg7<tspan font-size="65%" dy="-0.42em">fl/fl</tspan></text>
<text transform="translate(418.60,351.70) rotate(-45)" font-size="10.2" text-anchor="end" fill="#000">Atg7<tspan font-size="65%" dy="-0.42em">fl/fl</tspan><tspan dy="0.273em">,</tspan></text>
<text transform="translate(426.20,360.40) rotate(-45) scale(0.87,1)" font-size="10.2" text-anchor="end" fill="#000">Vav-Cre</text>
<rect x="475.40" y="313.05" width="7.10" height="27.75" fill="#2f4d8c" stroke="#23407c" stroke-width="0.7"/>
<line x1="478.95" y1="313.05" x2="478.95" y2="312.30" stroke="#222" stroke-width="1.3"/>
<line x1="476.55" y1="312.30" x2="481.35" y2="312.30" stroke="#222" stroke-width="1.3"/>
<rect x="491.70" y="327.82" width="6.80" height="12.98" fill="#a60f2f" stroke="#8e0a27" stroke-width="0.7"/>
<line x1="495.10" y1="327.82" x2="495.10" y2="322.88" stroke="#222" stroke-width="1.3"/>
<line x1="492.70" y1="322.88" x2="497.50" y2="322.88" stroke="#222" stroke-width="1.3"/>
<line x1="469.20" y1="278.30" x2="469.20" y2="341.30" stroke="#000" stroke-width="1.1"/>
<line x1="465.80" y1="340.80" x2="469.20" y2="340.80" stroke="#000" stroke-width="1.1"/>
<text transform="translate(462.10,343.80) scale(1.07,1)" font-size="8.7" text-anchor="end" fill="#000">0</text>
<line x1="465.80" y1="325.80" x2="469.20" y2="325.80" stroke="#000" stroke-width="1.1"/>
<text transform="translate(462.10,328.80) scale(1.07,1)" font-size="8.7" text-anchor="end" fill="#000">0.002</text>
<line x1="465.80" y1="310.80" x2="469.20" y2="310.80" stroke="#000" stroke-width="1.1"/>
<text transform="translate(462.10,313.80) scale(1.07,1)" font-size="8.7" text-anchor="end" fill="#000">0.004</text>
<line x1="465.80" y1="295.80" x2="469.20" y2="295.80" stroke="#000" stroke-width="1.1"/>
<text transform="translate(462.10,298.80) scale(1.07,1)" font-size="8.7" text-anchor="end" fill="#000">0.006</text>
<line x1="465.80" y1="280.80" x2="469.20" y2="280.80" stroke="#000" stroke-width="1.1"/>
<text transform="translate(462.10,283.80) scale(1.07,1)" font-size="8.7" text-anchor="end" fill="#000">0.008</text>
<line x1="469.20" y1="340.80" x2="504.60" y2="340.80" stroke="#000" stroke-width="1.1"/>
<line x1="469.20" y1="340.80" x2="469.20" y2="344.60" stroke="#000" stroke-width="1.1"/>
<line x1="485.84" y1="340.80" x2="485.84" y2="344.60" stroke="#000" stroke-width="1.1"/>
<line x1="502.00" y1="340.80" x2="502.00" y2="344.60" stroke="#000" stroke-width="1.1"/>
<text transform="translate(489.20,270.80) scale(1.05,1)" font-size="10.6" text-anchor="middle" fill="#000">8 weeks</text>
<line x1="478.50" y1="308.20" x2="496.00" y2="308.20" stroke="#000" stroke-width="1.1"/>
<circle cx="487.25" cy="303.70" r="1.25" fill="#1a1a1a"/>
<text transform="translate(482.65,352.60) rotate(-45)" font-size="10.2" text-anchor="end" fill="#000">Atg7<tspan font-size="65%" dy="-0.42em">fl/fl</tspan></text>
<text transform="translate(499.40,351.70) rotate(-45)" font-size="10.2" text-anchor="end" fill="#000">Atg7<tspan font-size="65%" dy="-0.42em">fl/fl</tspan><tspan dy="0.273em">,</tspan></text>
<text transform="translate(507.00,360.40) rotate(-45) scale(0.87,1)" font-size="10.2" text-anchor="end" fill="#000">Vav-Cre</text>
<text transform="translate(271.00,310.60) rotate(-90) scale(0.7068,1)" font-size="10.2" text-anchor="middle" fill="#000" font-weight="bold">% HSCs</text>
<rect x="70.00" y="448.01" width="6.75" height="50.24" fill="#2f4d8c" stroke="#23407c" stroke-width="0.7"/>
<line x1="73.38" y1="448.01" x2="73.38" y2="440.65" stroke="#222" stroke-width="1.3"/>
<line x1="70.97" y1="440.65" x2="75.78" y2="440.65" stroke="#222" stroke-width="1.3"/>
<rect x="86.25" y="448.22" width="6.75" height="50.03" fill="#a60f2f" stroke="#8e0a27" stroke-width="0.7"/>
<line x1="89.62" y1="448.22" x2="89.62" y2="446.73" stroke="#222" stroke-width="1.3"/>
<line x1="87.22" y1="446.73" x2="92.03" y2="446.73" stroke="#222" stroke-width="1.3"/>
<line x1="65.80" y1="431.75" x2="65.80" y2="498.75" stroke="#000" stroke-width="1.1"/>
<line x1="62.40" y1="498.25" x2="65.80" y2="498.25" stroke="#000" stroke-width="1.1"/>
<text transform="translate(58.70,501.25) scale(1.07,1)" font-size="8.7" text-anchor="end" fill="#000">0</text>
<line x1="62.40" y1="487.58" x2="65.80" y2="487.58" stroke="#000" stroke-width="1.1"/>
<text transform="translate(58.70,490.58) scale(1.07,1)" font-size="8.7" text-anchor="end" fill="#000">0.02</text>
<line x1="62.40" y1="476.92" x2="65.80" y2="476.92" stroke="#000" stroke-width="1.1"/>
<text transform="translate(58.70,479.92) scale(1.07,1)" font-size="8.7" text-anchor="end" fill="#000">0.04</text>
<line x1="62.40" y1="466.25" x2="65.80" y2="466.25" stroke="#000" stroke-width="1.1"/>
<text transform="translate(58.70,469.25) scale(1.07,1)" font-size="8.7" text-anchor="end" fill="#000">0.06</text>
<line x1="62.40" y1="455.58" x2="65.80" y2="455.58" stroke="#000" stroke-width="1.1"/>
<text transform="translate(58.70,458.58) scale(1.07,1)" font-size="8.7" text-anchor="end" fill="#000">0.08</text>
<line x1="62.40" y1="444.92" x2="65.80" y2="444.92" stroke="#000" stroke-width="1.1"/>
<text transform="translate(58.70,447.92) scale(1.07,1)" font-size="8.7" text-anchor="end" fill="#000">0.1</text>
<line x1="62.40" y1="434.25" x2="65.80" y2="434.25" stroke="#000" stroke-width="1.1"/>
<text transform="translate(58.70,437.25) scale(1.07,1)" font-size="8.7" text-anchor="end" fill="#000">0.12</text>
<line x1="65.80" y1="498.25" x2="100.00" y2="498.25" stroke="#000" stroke-width="1.1"/>
<line x1="65.80" y1="498.25" x2="65.80" y2="502.05" stroke="#000" stroke-width="1.1"/>
<line x1="81.87" y1="498.25" x2="81.87" y2="502.05" stroke="#000" stroke-width="1.1"/>
<line x1="97.40" y1="498.25" x2="97.40" y2="502.05" stroke="#000" stroke-width="1.1"/>
<text transform="translate(83.30,425.10) scale(1.05,1)" font-size="10.6" text-anchor="middle" fill="#000">P5</text>
<text transform="translate(77.08,510.05) rotate(-45)" font-size="10.2" text-anchor="end" fill="#000">Atg7<tspan font-size="65%" dy="-0.42em">fl/fl</tspan></text>
<text transform="translate(93.92,509.15) rotate(-45)" font-size="10.2" text-anchor="end" fill="#000">Atg7<tspan font-size="65%" dy="-0.42em">fl/fl</tspan><tspan dy="0.273em">,</tspan></text>
<text transform="translate(101.53,517.85) rotate(-45) scale(0.87,1)" font-size="10.2" text-anchor="end" fill="#000">Vav-Cre</text>
<rect x="140.40" y="456.19" width="6.60" height="42.71" fill="#2f4d8c" stroke="#23407c" stroke-width="0.7"/>
<line x1="143.70" y1="456.19" x2="143.70" y2="445.58" stroke="#222" stroke-width="1.3"/>
<line x1="141.30" y1="445.58" x2="146.10" y2="445.58" stroke="#222" stroke-width="1.3"/>
<rect x="156.80" y="471.20" width="6.70" height="27.70" fill="#a60f2f" stroke="#8e0a27" stroke-width="0.7"/>
<line x1="160.15" y1="471.20" x2="160.15" y2="467.82" stroke="#222" stroke-width="1.3"/>
<line x1="157.75" y1="467.82" x2="162.55" y2="467.82" stroke="#222" stroke-width="1.3"/>
<line x1="136.00" y1="432.10" x2="136.00" y2="499.40" stroke="#000" stroke-width="1.1"/>
<line x1="132.60" y1="498.90" x2="136.00" y2="498.90" stroke="#000" stroke-width="1.1"/>
<text transform="translate(128.90,501.90) scale(1.07,1)" font-size="8.7" text-anchor="end" fill="#000">0</text>
<line x1="132.60" y1="488.18" x2="136.00" y2="488.18" stroke="#000" stroke-width="1.1"/>
<text transform="translate(128.90,491.18) scale(1.07,1)" font-size="8.7" text-anchor="end" fill="#000">0.02</text>
<line x1="132.60" y1="477.47" x2="136.00" y2="477.47" stroke="#000" stroke-width="1.1"/>
<text transform="translate(128.90,480.47) scale(1.07,1)" font-size="8.7" text-anchor="end" fill="#000">0.04</text>
<line x1="132.60" y1="466.75" x2="136.00" y2="466.75" stroke="#000" stroke-width="1.1"/>
<text transform="translate(128.90,469.75) scale(1.07,1)" font-size="8.7" text-anchor="end" fill="#000">0.06</text>
<line x1="132.60" y1="456.03" x2="136.00" y2="456.03" stroke="#000" stroke-width="1.1"/>
<text transform="translate(128.90,459.03) scale(1.07,1)" font-size="8.7" text-anchor="end" fill="#000">0.08</text>
<line x1="132.60" y1="445.32" x2="136.00" y2="445.32" stroke="#000" stroke-width="1.1"/>
<text transform="translate(128.90,448.32) scale(1.07,1)" font-size="8.7" text-anchor="end" fill="#000">0.1</text>
<line x1="132.60" y1="434.60" x2="136.00" y2="434.60" stroke="#000" stroke-width="1.1"/>
<text transform="translate(128.90,437.60) scale(1.07,1)" font-size="8.7" text-anchor="end" fill="#000">0.12</text>
<line x1="136.00" y1="498.90" x2="171.20" y2="498.90" stroke="#000" stroke-width="1.1"/>
<line x1="136.00" y1="498.90" x2="136.00" y2="502.70" stroke="#000" stroke-width="1.1"/>
<line x1="152.54" y1="498.90" x2="152.54" y2="502.70" stroke="#000" stroke-width="1.1"/>
<line x1="168.60" y1="498.90" x2="168.60" y2="502.70" stroke="#000" stroke-width="1.1"/>
<text transform="translate(154.00,425.10) scale(1.05,1)" font-size="10.6" text-anchor="middle" fill="#000">4 weeks</text>
<text transform="translate(147.40,510.70) rotate(-45)" font-size="10.2" text-anchor="end" fill="#000">Atg7<tspan font-size="65%" dy="-0.42em">fl/fl</tspan></text>
<text transform="translate(164.45,509.80) rotate(-45)" font-size="10.2" text-anchor="end" fill="#000">Atg7<tspan font-size="65%" dy="-0.42em">fl/fl</tspan><tspan dy="0.273em">,</tspan></text>
<text transform="translate(172.05,518.50) rotate(-45) scale(0.87,1)" font-size="10.2" text-anchor="end" fill="#000">Vav-Cre</text>
<rect x="208.20" y="449.90" width="6.60" height="49.00" fill="#2f4d8c" stroke="#23407c" stroke-width="0.7"/>
<line x1="211.50" y1="449.90" x2="211.50" y2="446.17" stroke="#222" stroke-width="1.3"/>
<line x1="209.10" y1="446.17" x2="213.90" y2="446.17" stroke="#222" stroke-width="1.3"/>
<rect x="224.60" y="475.88" width="6.60" height="23.02" fill="#a60f2f" stroke="#8e0a27" stroke-width="0.7"/>
<line x1="227.90" y1="475.88" x2="227.90" y2="472.73" stroke="#222" stroke-width="1.3"/>
<line x1="225.50" y1="472.73" x2="230.30" y2="472.73" stroke="#222" stroke-width="1.3"/>
<line x1="203.30" y1="432.10" x2="203.30" y2="499.40" stroke="#000" stroke-width="1.1"/>
<line x1="199.90" y1="498.90" x2="203.30" y2="498.90" stroke="#000" stroke-width="1.1"/>
<text transform="translate(196.20,501.90) scale(1.07,1)" font-size="8.7" text-anchor="end" fill="#000">0</text>
<line x1="199.90" y1="486.04" x2="203.30" y2="486.04" stroke="#000" stroke-width="1.1"/>
<text transform="translate(196.20,489.04) scale(1.07,1)" font-size="8.7" text-anchor="end" fill="#000">0.02</text>
<line x1="199.90" y1="473.18" x2="203.30" y2="473.18" stroke="#000" stroke-width="1.1"/>
<text transform="translate(196.20,476.18) scale(1.07,1)" font-size="8.7" text-anchor="end" fill="#000">0.04</text>
<line x1="199.90" y1="460.32" x2="203.30" y2="460.32" stroke="#000" stroke-width="1.1"/>
<text transform="translate(196.20,463.32) scale(1.07,1)" font-size="8.7" text-anchor="end" fill="#000">0.06</text>
<line x1="199.90" y1="447.46" x2="203.30" y2="447.46" stroke="#000" stroke-width="1.1"/>
<text transform="translate(196.20,450.46) scale(1.07,1)" font-size="8.7" text-anchor="end" fill="#000">0.08</text>
<line x1="199.90" y1="434.60" x2="203.30" y2="434.60" stroke="#000" stroke-width="1.1"/>
<text transform="translate(196.20,437.60) scale(1.07,1)" font-size="8.7" text-anchor="end" fill="#000">0.1</text>
<line x1="203.30" y1="498.90" x2="239.30" y2="498.90" stroke="#000" stroke-width="1.1"/>
<line x1="203.30" y1="498.90" x2="203.30" y2="502.70" stroke="#000" stroke-width="1.1"/>
<line x1="220.22" y1="498.90" x2="220.22" y2="502.70" stroke="#000" stroke-width="1.1"/>
<line x1="236.70" y1="498.90" x2="236.70" y2="502.70" stroke="#000" stroke-width="1.1"/>
<text transform="translate(221.70,425.10) scale(1.05,1)" font-size="10.6" text-anchor="middle" fill="#000">8 weeks</text>
<line x1="212.00" y1="444.50" x2="229.80" y2="444.50" stroke="#000" stroke-width="1.1"/>
<circle cx="220.90" cy="440.00" r="1.25" fill="#1a1a1a"/>
<text transform="translate(215.20,510.70) rotate(-45)" font-size="10.2" text-anchor="end" fill="#000">Atg7<tspan font-size="65%" dy="-0.42em">fl/fl</tspan></text>
<text transform="translate(232.20,509.80) rotate(-45)" font-size="10.2" text-anchor="end" fill="#000">Atg7<tspan font-size="65%" dy="-0.42em">fl/fl</tspan><tspan dy="0.273em">,</tspan></text>
<text transform="translate(239.80,518.50) rotate(-45) scale(0.87,1)" font-size="10.2" text-anchor="end" fill="#000">Vav-Cre</text>
<text transform="translate(33.00,465.00) rotate(-90) scale(0.7719,1)" font-size="10.2" text-anchor="middle" fill="#000" font-weight="bold">% LEK cells</text>
<line x1="308.70" y1="415.00" x2="308.70" y2="498.70" stroke="#000" stroke-width="1.1"/>
<line x1="305.30" y1="498.20" x2="308.70" y2="498.20" stroke="#000" stroke-width="1.1"/>
<text transform="translate(301.80,501.20) scale(1.07,1)" font-size="8.7" text-anchor="end" fill="#000">0</text>
<line x1="305.30" y1="484.75" x2="308.70" y2="484.75" stroke="#000" stroke-width="1.1"/>
<text transform="translate(301.80,487.75) scale(1.07,1)" font-size="8.7" text-anchor="end" fill="#000">10</text>
<line x1="305.30" y1="471.30" x2="308.70" y2="471.30" stroke="#000" stroke-width="1.1"/>
<text transform="translate(301.80,474.30) scale(1.07,1)" font-size="8.7" text-anchor="end" fill="#000">20</text>
<line x1="305.30" y1="457.85" x2="308.70" y2="457.85" stroke="#000" stroke-width="1.1"/>
<text transform="translate(301.80,460.85) scale(1.07,1)" font-size="8.7" text-anchor="end" fill="#000">30</text>
<line x1="305.30" y1="444.40" x2="308.70" y2="444.40" stroke="#000" stroke-width="1.1"/>
<text transform="translate(301.80,447.40) scale(1.07,1)" font-size="8.7" text-anchor="end" fill="#000">40</text>
<line x1="305.30" y1="430.95" x2="308.70" y2="430.95" stroke="#000" stroke-width="1.1"/>
<text transform="translate(301.80,433.95) scale(1.07,1)" font-size="8.7" text-anchor="end" fill="#000">50</text>
<line x1="305.30" y1="417.50" x2="308.70" y2="417.50" stroke="#000" stroke-width="1.1"/>
<text transform="translate(301.80,420.50) scale(1.07,1)" font-size="8.7" text-anchor="end" fill="#000">60</text>
<line x1="308.20" y1="498.20" x2="424.70" y2="498.20" stroke="#000" stroke-width="1.1"/>
<line x1="308.70" y1="498.20" x2="308.70" y2="501.80" stroke="#000" stroke-width="1.1"/>
<text transform="translate(308.70,513.60) scale(1.07,1)" font-size="8.7" text-anchor="middle" fill="#000">0</text>
<line x1="327.50" y1="498.20" x2="327.50" y2="501.80" stroke="#000" stroke-width="1.1"/>
<text transform="translate(327.50,513.60) scale(1.07,1)" font-size="8.7" text-anchor="middle" fill="#000">10</text>
<line x1="346.30" y1="498.20" x2="346.30" y2="501.80" stroke="#000" stroke-width="1.1"/>
<text transform="translate(346.30,513.60) scale(1.07,1)" font-size="8.7" text-anchor="middle" fill="#000">20</text>
<line x1="365.10" y1="498.20" x2="365.10" y2="501.80" stroke="#000" stroke-width="1.1"/>
<text transform="translate(365.10,513.60) scale(1.07,1)" font-size="8.7" text-anchor="middle" fill="#000">30</text>
<line x1="383.90" y1="498.20" x2="383.90" y2="501.80" stroke="#000" stroke-width="1.1"/>
<text transform="translate(383.90,513.60) scale(1.07,1)" font-size="8.7" text-anchor="middle" fill="#000">40</text>
<line x1="402.70" y1="498.20" x2="402.70" y2="501.80" stroke="#000" stroke-width="1.1"/>
<text transform="translate(402.70,513.60) scale(1.07,1)" font-size="8.7" text-anchor="middle" fill="#000">50</text>
<line x1="421.50" y1="498.20" x2="421.50" y2="501.80" stroke="#000" stroke-width="1.1"/>
<text transform="translate(421.50,513.60) scale(1.07,1)" font-size="8.7" text-anchor="middle" fill="#000">60</text>
<text transform="translate(366.80,528.90) scale(0.7068,1)" font-size="10.2" text-anchor="middle" fill="#000" font-weight="bold">Days post delivered</text>
<text transform="translate(283.20,455.90) rotate(-90) scale(0.7998,1)" font-size="10.6" text-anchor="middle" fill="#000" font-weight="bold">10<tspan font-size="78%" dy="-0.4em">2</tspan><tspan dy="0.312em">/µl</tspan></text>
<text transform="translate(367.10,407.50) scale(1.08,1)" font-size="11.2" text-anchor="middle" fill="#000">WBC</text>
<line x1="361.34" y1="432.29" x2="361.34" y2="424.23" stroke="#5672ad" stroke-width="1.05"/>
<line x1="359.54" y1="424.23" x2="363.14" y2="424.23" stroke="#5672ad" stroke-width="1.05"/>
<line x1="318.10" y1="464.57" x2="318.10" y2="461.21" stroke="#c94a63" stroke-width="1.05"/>
<line x1="316.30" y1="461.21" x2="319.90" y2="461.21" stroke="#c94a63" stroke-width="1.05"/>
<line x1="361.34" y1="472.64" x2="361.34" y2="469.69" stroke="#c94a63" stroke-width="1.05"/>
<line x1="359.54" y1="469.69" x2="363.14" y2="469.69" stroke="#c94a63" stroke-width="1.05"/>
<line x1="412.66" y1="478.02" x2="412.66" y2="467.00" stroke="#c94a63" stroke-width="1.05"/>
<line x1="410.86" y1="467.00" x2="414.46" y2="467.00" stroke="#c94a63" stroke-width="1.05"/>
<line x1="359.54" y1="475.33" x2="363.14" y2="475.33" stroke="#c94a63" stroke-width="0.9"/>
<line x1="316.30" y1="467.53" x2="319.90" y2="467.53" stroke="#c94a63" stroke-width="0.9"/>
<polyline points="318.10,467.26 361.34,432.29 412.66,454.49" fill="none" stroke="#5672ad" stroke-width="1.0"/>
<polyline points="318.10,464.57 361.34,472.64 412.66,478.02" fill="none" stroke="#c94a63" stroke-width="1.0"/>
<path d="M318.10,462.18 L320.38,466.13 L315.82,466.13 Z" fill="#fff" stroke="#c94a63" stroke-width="0.9"/>
<path d="M361.34,470.25 L363.62,474.20 L359.06,474.20 Z" fill="#fff" stroke="#c94a63" stroke-width="0.9"/>
<path d="M412.66,475.62 L414.94,479.58 L410.38,479.58 Z" fill="#fff" stroke="#c94a63" stroke-width="0.9"/>
<circle cx="318.10" cy="467.26" r="2.5" fill="#2f4d8c"/>
<circle cx="361.34" cy="432.29" r="2.5" fill="#2f4d8c"/>
<circle cx="412.66" cy="454.49" r="2.5" fill="#2f4d8c"/>
<circle cx="361.34" cy="419.30" r="1.25" fill="#1a1a1a"/>
<circle cx="434.00" cy="452.20" r="3.8" fill="#2f4d8c"/>
<text transform="translate(441.60,455.50)" font-size="8.8" text-anchor="start" fill="#000">Atg7<tspan font-size="64%" dy="-0.42em">fl/fl</tspan></text>
<path d="M434.00,467.00 L437.70,473.44 L430.30,473.44 Z" fill="#fff" stroke="#c94a63" stroke-width="1.2"/>
<text transform="translate(441.60,469.30)" font-size="8.8" text-anchor="start" fill="#000">Atg7<tspan font-size="64%" dy="-0.42em">fl/fl</tspan><tspan dy="0.269em">;</tspan></text>
<text transform="translate(441.60,479.70) scale(0.93,1)" font-size="8.8" text-anchor="start" fill="#000">Vav-Cre</text>
<text transform="translate(94.70,579.20)" font-size="9.6" text-anchor="middle" fill="#000">8 weeks</text>
<text transform="translate(71.90,603.80)" font-size="9.2" text-anchor="middle" fill="#000">Atg7<tspan font-size="68%" dy="-0.42em">fl/fl</tspan></text>
<text transform="translate(124.20,593.00)" font-size="9.2" text-anchor="middle" fill="#000">Atg7<tspan font-size="68%" dy="-0.42em">fl/fl</tspan><tspan dy="0.286em">;</tspan></text>
<text transform="translate(124.30,603.30) scale(0.93,1)" font-size="9.5" text-anchor="middle" fill="#000">Vav-Cre</text>
<rect x="51.50" y="605.80" width="40.80" height="43.70" fill="none" stroke="#c4c4c4" stroke-width="0.9"/>
<line x1="51.50" y1="625.20" x2="92.30" y2="625.20" stroke="#7a7a7a" stroke-width="1.0"/>
<line x1="57.20" y1="614.50" x2="57.20" y2="648.00" stroke="#555" stroke-width="0.6"/>
<line x1="57.20" y1="649.50" x2="57.20" y2="648.20" stroke="#999" stroke-width="0.6"/>
<line x1="66.60" y1="649.50" x2="66.60" y2="648.20" stroke="#999" stroke-width="0.6"/>
<line x1="74.76" y1="649.50" x2="74.76" y2="648.20" stroke="#999" stroke-width="0.6"/>
<line x1="82.51" y1="649.50" x2="82.51" y2="648.20" stroke="#999" stroke-width="0.6"/>
<line x1="91.00" y1="649.50" x2="91.00" y2="648.20" stroke="#999" stroke-width="0.6"/>
<line x1="51.50" y1="610.66" x2="52.50" y2="610.66" stroke="#aaa" stroke-width="0.5"/>
<line x1="51.50" y1="615.51" x2="52.50" y2="615.51" stroke="#aaa" stroke-width="0.5"/>
<line x1="51.50" y1="620.37" x2="52.50" y2="620.37" stroke="#aaa" stroke-width="0.5"/>
<line x1="51.50" y1="625.22" x2="52.50" y2="625.22" stroke="#aaa" stroke-width="0.5"/>
<line x1="51.50" y1="630.08" x2="52.50" y2="630.08" stroke="#aaa" stroke-width="0.5"/>
<line x1="51.50" y1="634.93" x2="52.50" y2="634.93" stroke="#aaa" stroke-width="0.5"/>
<line x1="51.50" y1="639.79" x2="52.50" y2="639.79" stroke="#aaa" stroke-width="0.5"/>
<line x1="51.50" y1="644.64" x2="52.50" y2="644.64" stroke="#aaa" stroke-width="0.5"/>
<text transform="translate(53.90,611.80)" font-size="5.4" text-anchor="start" fill="#111">53.8%</text>
<text transform="translate(91.30,611.80)" font-size="5.4" text-anchor="end" fill="#111">7.96%</text>
<text transform="translate(53.90,646.10)" font-size="5.4" text-anchor="start" fill="#111">38%</text>
<text transform="translate(91.30,646.10)" font-size="5.4" text-anchor="end" fill="#111">0%</text>
<text transform="translate(49.80,660.00)" font-size="6.6" text-anchor="start" fill="#000">0</text>
<text transform="translate(52.90,660.00)" font-size="6.6" text-anchor="start" fill="#000">50K</text>
<text transform="translate(68.10,660.00)" font-size="6.6" text-anchor="start" fill="#000">150K</text>
<text transform="translate(84.20,660.00)" font-size="6.6" text-anchor="start" fill="#000">250K</text>
<rect x="104.20" y="605.80" width="42.10" height="43.70" fill="none" stroke="#c4c4c4" stroke-width="0.9"/>
<line x1="104.20" y1="625.30" x2="146.30" y2="625.30" stroke="#7a7a7a" stroke-width="1.0"/>
<line x1="112.00" y1="613.60" x2="112.00" y2="640.00" stroke="#555" stroke-width="0.6"/>
<line x1="112.00" y1="649.50" x2="112.00" y2="648.20" stroke="#999" stroke-width="0.6"/>
<line x1="119.78" y1="649.50" x2="119.78" y2="648.20" stroke="#999" stroke-width="0.6"/>
<line x1="128.20" y1="649.50" x2="128.20" y2="648.20" stroke="#999" stroke-width="0.6"/>
<line x1="136.20" y1="649.50" x2="136.20" y2="648.20" stroke="#999" stroke-width="0.6"/>
<line x1="145.00" y1="649.50" x2="145.00" y2="648.20" stroke="#999" stroke-width="0.6"/>
<line x1="104.20" y1="610.66" x2="105.20" y2="610.66" stroke="#aaa" stroke-width="0.5"/>
<line x1="104.20" y1="615.51" x2="105.20" y2="615.51" stroke="#aaa" stroke-width="0.5"/>
<line x1="104.20" y1="620.37" x2="105.20" y2="620.37" stroke="#aaa" stroke-width="0.5"/>
<line x1="104.20" y1="625.22" x2="105.20" y2="625.22" stroke="#aaa" stroke-width="0.5"/>
<line x1="104.20" y1="630.08" x2="105.20" y2="630.08" stroke="#aaa" stroke-width="0.5"/>
<line x1="104.20" y1="634.93" x2="105.20" y2="634.93" stroke="#aaa" stroke-width="0.5"/>
<line x1="104.20" y1="639.79" x2="105.20" y2="639.79" stroke="#aaa" stroke-width="0.5"/>
<line x1="104.20" y1="644.64" x2="105.20" y2="644.64" stroke="#aaa" stroke-width="0.5"/>
<text transform="translate(106.60,611.80)" font-size="5.4" text-anchor="start" fill="#111">79.5%</text>
<text transform="translate(145.30,611.80)" font-size="5.4" text-anchor="end" fill="#111">18.1%</text>
<text transform="translate(106.60,646.10)" font-size="5.4" text-anchor="start" fill="#111">2.4%</text>
<text transform="translate(145.30,646.10)" font-size="5.4" text-anchor="end" fill="#111">0%</text>
<text transform="translate(103.40,660.00)" font-size="6.6" text-anchor="start" fill="#000">0</text>
<text transform="translate(106.50,660.00)" font-size="6.6" text-anchor="start" fill="#000">50K</text>
<text transform="translate(121.70,660.00)" font-size="6.6" text-anchor="start" fill="#000">150K</text>
<text transform="translate(137.90,660.00)" font-size="6.6" text-anchor="start" fill="#000">250K</text>
<text transform="translate(50.00,611.00)" font-size="6.6" text-anchor="end" fill="#000">10<tspan font-size="55%" dy="-1.1em">5</tspan></text>
<text transform="translate(50.00,622.00)" font-size="6.6" text-anchor="end" fill="#000">10<tspan font-size="55%" dy="-1.1em">4</tspan></text>
<text transform="translate(50.00,633.00)" font-size="6.6" text-anchor="end" fill="#000">10<tspan font-size="55%" dy="-1.1em">3</tspan></text>
<text transform="translate(50.00,640.30)" font-size="6.6" text-anchor="end" fill="#000">0<tspan font-size="55%" dy="-1.1em"> </tspan></text>
<text transform="translate(50.00,648.20)" font-size="6.6" text-anchor="end" fill="#000">-10<tspan font-size="55%" dy="-1.1em">3</tspan></text>
<g>
<ellipse cx="57.0" cy="622.4" rx="1.6" ry="3.0" fill="#151515"/>
<path d="M57,619.8 L62.4,618.4 L62.8,620.2 L58.0,622.8 Z" fill="#222"/>
<path d="M55.6,624 L57.4,624 L56.9,634.0 L56.0,634.0 Z" fill="#262626"/>
<circle cx="56.43" cy="639.71" r="0.35" fill="#333"/>
<circle cx="56.08" cy="639.20" r="0.35" fill="#333"/>
<circle cx="56.29" cy="636.95" r="0.35" fill="#333"/>
<circle cx="56.95" cy="637.73" r="0.35" fill="#333"/>
<circle cx="56.38" cy="638.95" r="0.35" fill="#333"/>
<circle cx="56.81" cy="637.44" r="0.35" fill="#333"/>
<circle cx="56.61" cy="635.73" r="0.35" fill="#333"/>
<circle cx="56.25" cy="636.61" r="0.35" fill="#333"/>
<circle cx="57.84" cy="618.96" r="0.4" fill="#111"/>
<circle cx="57.02" cy="620.23" r="0.4" fill="#111"/>
<circle cx="59.58" cy="620.01" r="0.4" fill="#111"/>
<circle cx="60.14" cy="618.81" r="0.4" fill="#111"/>
<circle cx="59.80" cy="620.87" r="0.4" fill="#111"/>
<circle cx="61.60" cy="619.37" r="0.4" fill="#111"/>
<circle cx="59.36" cy="618.48" r="0.4" fill="#111"/>
<circle cx="59.25" cy="618.44" r="0.4" fill="#111"/>
<circle cx="57.53" cy="621.71" r="0.4" fill="#111"/>
<circle cx="56.82" cy="621.23" r="0.4" fill="#111"/>
<circle cx="60.79" cy="620.03" r="0.4" fill="#111"/>
<circle cx="61.07" cy="621.27" r="0.4" fill="#111"/>
<circle cx="62.26" cy="620.19" r="0.4" fill="#111"/>
<circle cx="58.66" cy="619.64" r="0.4" fill="#111"/>
<circle cx="55.88" cy="617.43" r="0.35" fill="#333"/>
<circle cx="56.05" cy="619.04" r="0.35" fill="#333"/>
<circle cx="55.68" cy="616.30" r="0.35" fill="#333"/>
<circle cx="56.10" cy="615.31" r="0.35" fill="#333"/>
<circle cx="57.12" cy="615.55" r="0.35" fill="#333"/>
<circle cx="56.31" cy="616.61" r="0.35" fill="#333"/>
<circle cx="64.20" cy="618.20" r="0.45" fill="#222"/>
<circle cx="65.60" cy="617.40" r="0.4" fill="#333"/>
<circle cx="66.80" cy="616.60" r="0.4" fill="#444"/>
<circle cx="59.50" cy="624.60" r="0.4" fill="#333"/>
<circle cx="61.20" cy="624.80" r="0.4" fill="#444"/>
<path d="M109.6,623.8 L111.6,618.2 L113.0,618.6 L111.2,624.2 Z" fill="#111"/>
<circle cx="111.51" cy="621.29" r="0.4" fill="#111"/>
<circle cx="111.50" cy="621.82" r="0.4" fill="#111"/>
<circle cx="109.75" cy="621.78" r="0.4" fill="#111"/>
<circle cx="110.89" cy="621.44" r="0.4" fill="#111"/>
<circle cx="109.87" cy="622.89" r="0.4" fill="#111"/>
<circle cx="111.45" cy="621.24" r="0.4" fill="#111"/>
<circle cx="111.82" cy="623.26" r="0.4" fill="#111"/>
<circle cx="109.21" cy="622.83" r="0.4" fill="#111"/>
<circle cx="109.43" cy="623.85" r="0.4" fill="#111"/>
<circle cx="110.35" cy="622.26" r="0.4" fill="#111"/>
<circle cx="105.76" cy="621.83" r="0.35" fill="#333"/>
<circle cx="105.83" cy="621.32" r="0.35" fill="#333"/>
<circle cx="107.09" cy="621.19" r="0.35" fill="#333"/>
<circle cx="104.50" cy="621.96" r="0.35" fill="#333"/>
<circle cx="114.40" cy="616.60" r="0.45" fill="#222"/>
<circle cx="115.80" cy="616.00" r="0.4" fill="#333"/>
<circle cx="117.40" cy="616.40" r="0.4" fill="#333"/>
<circle cx="121.00" cy="619.60" r="0.4" fill="#444"/>
<circle cx="103.80" cy="639.00" r="0.5" fill="#222"/>
<circle cx="111.00" cy="628.60" r="0.4" fill="#333"/>
</g>
<path d="M29.5,630 L29.5,670.7 L97,670.7" fill="none" stroke="#000" stroke-width="1.1"/>
<path d="M29.5,624.5 L25.8,633.6 L33.2,633.6 Z" fill="#000"/>
<path d="M102,670.7 L92.9,667 L92.9,674.4 Z" fill="#000"/>
<text transform="translate(32.40,614.40) rotate(-90) scale(0.5766,1)" font-size="9.6" text-anchor="middle" fill="#000" font-weight="bold">Ki67</text>
<text transform="translate(104.90,672.30) scale(0.651,1)" font-size="8.9" text-anchor="start" fill="#000" font-weight="bold">Hoechst 33342</text>
<rect x="216.50" y="623.94" width="5.40" height="26.06" fill="#2f4d8c" stroke="#23407c" stroke-width="0.7"/>
<line x1="219.20" y1="623.94" x2="219.20" y2="618.49" stroke="#222" stroke-width="1.3"/>
<line x1="216.80" y1="618.49" x2="221.60" y2="618.49" stroke="#222" stroke-width="1.3"/>
<rect x="222.70" y="643.94" width="5.80" height="6.06" fill="#a60f2f" stroke="#8e0a27" stroke-width="0.7"/>
<line x1="225.60" y1="643.94" x2="225.60" y2="643.46" stroke="#222" stroke-width="1.3"/>
<line x1="223.20" y1="643.46" x2="228.00" y2="643.46" stroke="#222" stroke-width="1.3"/>
<rect x="239.00" y="619.70" width="5.40" height="30.30" fill="#2f4d8c" stroke="#23407c" stroke-width="0.7"/>
<line x1="241.70" y1="619.70" x2="241.70" y2="611.22" stroke="#222" stroke-width="1.3"/>
<line x1="239.30" y1="611.22" x2="244.10" y2="611.22" stroke="#222" stroke-width="1.3"/>
<rect x="245.40" y="604.55" width="5.80" height="45.45" fill="#a60f2f" stroke="#8e0a27" stroke-width="0.7"/>
<line x1="248.30" y1="604.55" x2="248.30" y2="597.28" stroke="#222" stroke-width="1.3"/>
<line x1="245.90" y1="597.28" x2="250.70" y2="597.28" stroke="#222" stroke-width="1.3"/>
<rect x="261.70" y="645.15" width="5.40" height="4.85" fill="#2f4d8c" stroke="#23407c" stroke-width="0.7"/>
<line x1="264.40" y1="645.15" x2="264.40" y2="643.33" stroke="#222" stroke-width="1.3"/>
<line x1="262.00" y1="643.33" x2="266.80" y2="643.33" stroke="#222" stroke-width="1.3"/>
<rect x="268.00" y="640.30" width="5.80" height="9.70" fill="#a60f2f" stroke="#8e0a27" stroke-width="0.7"/>
<line x1="270.90" y1="640.30" x2="270.90" y2="637.88" stroke="#222" stroke-width="1.3"/>
<line x1="268.50" y1="637.88" x2="273.30" y2="637.88" stroke="#222" stroke-width="1.3"/>
<line x1="210.80" y1="587.00" x2="210.80" y2="650.50" stroke="#000" stroke-width="1.1"/>
<line x1="207.40" y1="650.00" x2="210.80" y2="650.00" stroke="#000" stroke-width="1.1"/>
<text transform="translate(205.00,653.00) scale(1.07,1)" font-size="8.7" text-anchor="end" fill="#000">0</text>
<line x1="207.40" y1="637.88" x2="210.80" y2="637.88" stroke="#000" stroke-width="1.1"/>
<text transform="translate(205.00,640.88) scale(1.07,1)" font-size="8.7" text-anchor="end" fill="#000">20</text>
<line x1="207.40" y1="625.76" x2="210.80" y2="625.76" stroke="#000" stroke-width="1.1"/>
<text transform="translate(205.00,628.76) scale(1.07,1)" font-size="8.7" text-anchor="end" fill="#000">40</text>
<line x1="207.40" y1="613.64" x2="210.80" y2="613.64" stroke="#000" stroke-width="1.1"/>
<text transform="translate(205.00,616.64) scale(1.07,1)" font-size="8.7" text-anchor="end" fill="#000">60</text>
<line x1="207.40" y1="601.52" x2="210.80" y2="601.52" stroke="#000" stroke-width="1.1"/>
<text transform="translate(205.00,604.52) scale(1.07,1)" font-size="8.7" text-anchor="end" fill="#000">80</text>
<line x1="207.40" y1="589.40" x2="210.80" y2="589.40" stroke="#000" stroke-width="1.1"/>
<text transform="translate(205.00,592.40) scale(1.07,1)" font-size="8.7" text-anchor="end" fill="#000">100</text>
<line x1="210.80" y1="650.20" x2="280.00" y2="650.20" stroke="#000" stroke-width="1.1"/>
<line x1="210.80" y1="650.20" x2="210.80" y2="653.30" stroke="#000" stroke-width="1.1"/>
<line x1="233.80" y1="650.20" x2="233.80" y2="653.30" stroke="#000" stroke-width="1.1"/>
<line x1="256.50" y1="650.20" x2="256.50" y2="653.30" stroke="#000" stroke-width="1.1"/>
<line x1="279.20" y1="650.20" x2="279.20" y2="653.30" stroke="#000" stroke-width="1.1"/>
<line x1="219.40" y1="615.40" x2="226.00" y2="615.40" stroke="#000" stroke-width="0.9"/>
<circle cx="223.30" cy="610.70" r="1.25" fill="#1a1a1a"/>
<text transform="translate(227.50,659.50) rotate(-45)" font-size="10.6" text-anchor="end" fill="#000">G0</text>
<text transform="translate(250.00,659.50) rotate(-45)" font-size="10.6" text-anchor="end" fill="#000">G1</text>
<text transform="translate(272.80,659.50) rotate(-45)" font-size="10.6" text-anchor="end" fill="#000">S/G2/M</text>
<text transform="translate(181.50,618.80) rotate(-90) scale(0.7068,1)" font-size="10.2" text-anchor="middle" fill="#000" font-weight="bold">% cells</text>
<rect x="282.5" y="605.4" width="5.2" height="5.2" fill="#2f4d8c"/>
<text transform="translate(291.00,610.60)" font-size="8.8" text-anchor="start" fill="#000">Atg7<tspan font-size="64%" dy="-0.42em">fl/fl</tspan></text>
<rect x="282.5" y="622.1" width="5.2" height="5.2" fill="#a60f2f"/>
<text transform="translate(291.00,624.20)" font-size="8.8" text-anchor="start" fill="#000">Atg7<tspan font-size="64%" dy="-0.42em">fl/fl</tspan><tspan dy="0.269em">;</tspan></text>
<text transform="translate(291.00,634.40) scale(0.96,1)" font-size="8.8" text-anchor="start" fill="#000">Vav-Cre</text>
</svg>
</body></html>
